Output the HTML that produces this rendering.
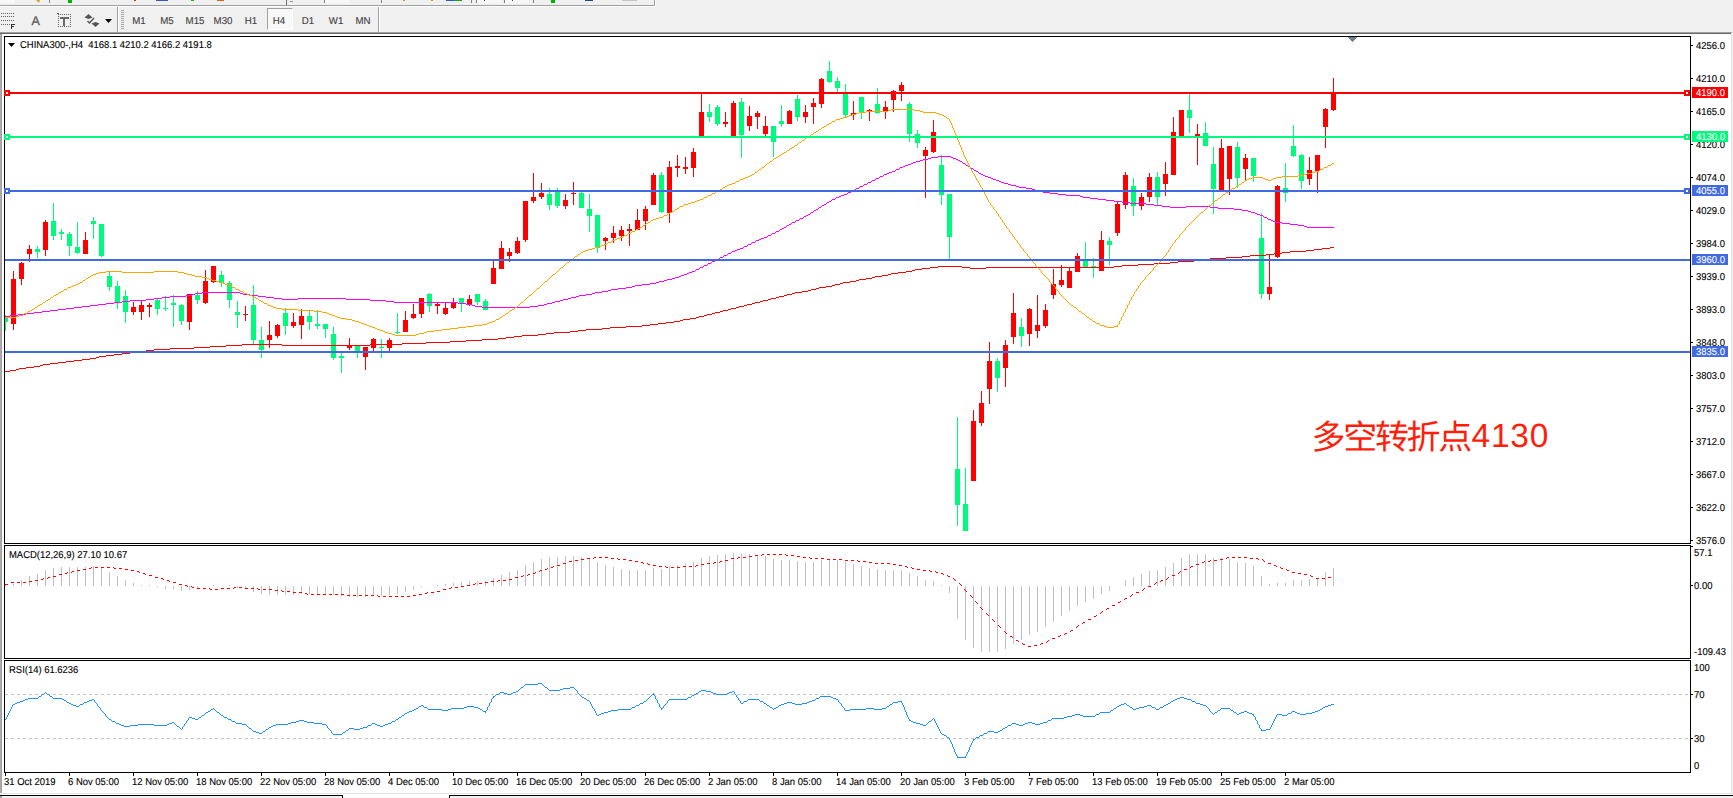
<!DOCTYPE html>
<html><head><meta charset="utf-8"><title>CHINA300 H4</title><style>
html,body{margin:0;padding:0}
body{text-rendering:geometricPrecision;width:1733px;height:798px;position:relative;overflow:hidden;background:#f0f0f0;font-family:"Liberation Sans",sans-serif}
.abs{position:absolute}
.t{position:absolute;font-size:10px;line-height:12px;color:#000;white-space:nowrap;transform:scaleX(0.945);transform-origin:0 0;-webkit-text-stroke:0.12px #000}
.tb{position:absolute;font-size:10px;line-height:12px;color:#404040;white-space:nowrap;transform:translateX(-50%) scaleX(0.97);transform-origin:50% 0;-webkit-text-stroke:0.12px #404040}
.pl{position:absolute;left:1692px;width:36px;height:11px;overflow:hidden;font-size:10px;line-height:13px;color:#fff;white-space:nowrap;-webkit-text-stroke:0.1px #fff}
.pl span{display:inline-block;margin-left:4px;transform:scaleX(0.945);transform-origin:0 0}
.cn{position:absolute;font-family:"Liberation Sans","Noto Sans CJK SC",sans-serif;font-size:34px;line-height:46px;letter-spacing:-2.3px;color:#ff1e0a;white-space:nowrap}
.cd{font-size:33.5px;letter-spacing:0.8px;position:relative;top:-2px;margin-left:1.5px}
</style></head><body>
<div class="abs" style="left:0;top:0;width:1733px;height:34px;background:#f0f0f0"></div>
<div class="abs" style="left:0;top:5px;width:655px;height:1px;background:#a0a0a0"></div>
<div class="abs" style="left:0;top:6px;width:656px;height:1px;background:#fff"></div>
<div class="abs" style="left:654px;top:0;width:1px;height:6px;background:#a0a0a0"></div>
<div class="abs" style="left:655px;top:0;width:1px;height:7px;background:#fff"></div>
<div class="abs" style="left:0;top:32px;width:1732px;height:1px;background:#a0a0a0"></div>
<div class="abs" style="left:0;top:33px;width:1731px;height:1px;background:#696969"></div>
<div class="abs" style="left:0;top:34px;width:1px;height:759px;background:#acacac"></div>
<div class="abs" style="left:1px;top:34px;width:1px;height:759px;background:#a0a0a0"></div>
<div class="abs" style="left:2px;top:34px;width:1729px;height:759px;background:#fff"></div>
<div class="abs" style="left:1731px;top:34px;width:1px;height:760px;background:#e3e3e3"></div>
<div class="abs" style="left:2px;top:793px;width:1730px;height:1px;background:#e3e3e3"></div>
<div class="abs" style="left:0;top:794px;width:1733px;height:4px;background:#f0f0f0"></div>
<div class="abs" style="left:2px;top:794px;width:1729px;height:1px;background:#fff"></div>
<div class="abs" style="left:0;top:795px;width:343px;height:1px;background:#000"></div>
<div class="abs" style="left:342px;top:795px;width:1px;height:3px;background:#000"></div>
<div class="abs" style="left:343px;top:794px;width:106px;height:4px;background:#fff"></div>
<div class="abs" style="left:449px;top:795px;width:1px;height:3px;background:#000"></div>
<div class="abs" style="left:449px;top:795px;width:1284px;height:1px;background:#000"></div>
<div class="abs" style="left:0;top:796px;width:2px;height:2px;background:#a8a8a8"></div>
<div class="abs" style="left:117px;top:7px;width:1px;height:25px;background:#a0a0a0"></div>
<div class="abs" style="left:118px;top:7px;width:1px;height:25px;background:#fff"></div>
<div class="abs" style="left:378px;top:7px;width:1px;height:25px;background:#a0a0a0"></div>
<div class="abs" style="left:379px;top:7px;width:1px;height:25px;background:#fff"></div>
<div class="abs" style="left:267px;top:8px;width:26px;height:22px;background:#f8f8f8;border:1px solid #a0a0a0;border-right-color:#fff;border-bottom-color:#fff;box-sizing:border-box"></div>
<svg width="1733" height="798" viewBox="0 0 1733 798" style="position:absolute;left:0;top:0" shape-rendering="crispEdges"><rect x="5" y="315" width="1" height="16" fill="#00fb7c"/>
<rect x="5" y="318" width="3" height="4" fill="#00fb7c"/>
<rect x="13" y="271" width="1" height="59" fill="#ff0000"/>
<rect x="11" y="279" width="5" height="45" fill="#ff0000"/>
<rect x="21" y="262" width="1" height="23" fill="#ff0000"/>
<rect x="19" y="263" width="5" height="16" fill="#ff0000"/>
<rect x="29" y="245" width="1" height="17" fill="#ff0000"/>
<rect x="27" y="249" width="5" height="5" fill="#ff0000"/>
<rect x="37" y="246" width="1" height="12" fill="#00fb7c"/>
<rect x="35" y="249" width="5" height="3" fill="#00fb7c"/>
<rect x="45" y="220" width="1" height="36" fill="#ff0000"/>
<rect x="43" y="222" width="5" height="28" fill="#ff0000"/>
<rect x="53" y="203" width="1" height="37" fill="#00fb7c"/>
<rect x="51" y="221" width="5" height="15" fill="#00fb7c"/>
<rect x="61" y="229" width="1" height="11" fill="#00fb7c"/>
<rect x="59" y="232" width="5" height="2" fill="#00fb7c"/>
<rect x="69" y="232" width="1" height="24" fill="#00fb7c"/>
<rect x="67" y="234" width="5" height="12" fill="#00fb7c"/>
<rect x="77" y="222" width="1" height="32" fill="#00fb7c"/>
<rect x="75" y="247" width="5" height="6" fill="#00fb7c"/>
<rect x="85" y="232" width="1" height="22" fill="#ff0000"/>
<rect x="83" y="240" width="5" height="14" fill="#ff0000"/>
<rect x="93" y="217" width="1" height="22" fill="#00fb7c"/>
<rect x="91" y="221" width="5" height="3" fill="#00fb7c"/>
<rect x="101" y="224" width="1" height="33" fill="#00fb7c"/>
<rect x="99" y="224" width="5" height="32" fill="#00fb7c"/>
<rect x="109" y="272" width="1" height="19" fill="#00fb7c"/>
<rect x="107" y="276" width="5" height="11" fill="#00fb7c"/>
<rect x="117" y="281" width="1" height="28" fill="#00fb7c"/>
<rect x="115" y="286" width="5" height="16" fill="#00fb7c"/>
<rect x="125" y="290" width="1" height="33" fill="#00fb7c"/>
<rect x="123" y="296" width="5" height="16" fill="#00fb7c"/>
<rect x="133" y="302" width="1" height="13" fill="#ff0000"/>
<rect x="131" y="307" width="5" height="5" fill="#ff0000"/>
<rect x="141" y="301" width="1" height="19" fill="#ff0000"/>
<rect x="139" y="305" width="5" height="7" fill="#ff0000"/>
<rect x="149" y="303" width="1" height="14" fill="#ff0000"/>
<rect x="147" y="305" width="5" height="2" fill="#ff0000"/>
<rect x="157" y="298" width="1" height="17" fill="#00fb7c"/>
<rect x="155" y="300" width="5" height="9" fill="#00fb7c"/>
<rect x="165" y="296" width="1" height="15" fill="#00fb7c"/>
<rect x="163" y="308" width="5" height="1" fill="#00fb7c"/>
<rect x="173" y="295" width="1" height="32" fill="#00fb7c"/>
<rect x="171" y="303" width="5" height="2" fill="#00fb7c"/>
<rect x="181" y="304" width="1" height="21" fill="#00fb7c"/>
<rect x="179" y="305" width="5" height="16" fill="#00fb7c"/>
<rect x="189" y="294" width="1" height="36" fill="#ff0000"/>
<rect x="187" y="294" width="5" height="28" fill="#ff0000"/>
<rect x="197" y="291" width="1" height="13" fill="#00fb7c"/>
<rect x="195" y="295" width="5" height="5" fill="#00fb7c"/>
<rect x="205" y="270" width="1" height="34" fill="#ff0000"/>
<rect x="203" y="281" width="5" height="22" fill="#ff0000"/>
<rect x="213" y="266" width="1" height="17" fill="#ff0000"/>
<rect x="211" y="266" width="5" height="16" fill="#ff0000"/>
<rect x="221" y="271" width="1" height="16" fill="#00fb7c"/>
<rect x="219" y="275" width="5" height="8" fill="#00fb7c"/>
<rect x="229" y="281" width="1" height="27" fill="#00fb7c"/>
<rect x="227" y="283" width="5" height="17" fill="#00fb7c"/>
<rect x="237" y="301" width="1" height="27" fill="#00fb7c"/>
<rect x="235" y="312" width="5" height="3" fill="#00fb7c"/>
<rect x="245" y="306" width="1" height="15" fill="#ff0000"/>
<rect x="243" y="314" width="5" height="1" fill="#ff0000"/>
<rect x="253" y="285" width="1" height="60" fill="#00fb7c"/>
<rect x="251" y="305" width="5" height="35" fill="#00fb7c"/>
<rect x="261" y="327" width="1" height="31" fill="#00fb7c"/>
<rect x="259" y="340" width="5" height="10" fill="#00fb7c"/>
<rect x="269" y="321" width="1" height="27" fill="#ff0000"/>
<rect x="267" y="335" width="5" height="5" fill="#ff0000"/>
<rect x="277" y="324" width="1" height="14" fill="#ff0000"/>
<rect x="275" y="325" width="5" height="11" fill="#ff0000"/>
<rect x="285" y="308" width="1" height="27" fill="#00fb7c"/>
<rect x="283" y="313" width="5" height="13" fill="#00fb7c"/>
<rect x="293" y="313" width="1" height="15" fill="#ff0000"/>
<rect x="291" y="322" width="5" height="4" fill="#ff0000"/>
<rect x="301" y="309" width="1" height="30" fill="#ff0000"/>
<rect x="299" y="316" width="5" height="9" fill="#ff0000"/>
<rect x="309" y="311" width="1" height="19" fill="#00fb7c"/>
<rect x="307" y="316" width="5" height="6" fill="#00fb7c"/>
<rect x="317" y="310" width="1" height="19" fill="#00fb7c"/>
<rect x="315" y="324" width="5" height="2" fill="#00fb7c"/>
<rect x="325" y="324" width="1" height="14" fill="#00fb7c"/>
<rect x="323" y="324" width="5" height="5" fill="#00fb7c"/>
<rect x="333" y="327" width="1" height="33" fill="#00fb7c"/>
<rect x="331" y="334" width="5" height="24" fill="#00fb7c"/>
<rect x="341" y="353" width="1" height="20" fill="#00fb7c"/>
<rect x="339" y="356" width="5" height="2" fill="#00fb7c"/>
<rect x="349" y="338" width="1" height="12" fill="#ff0000"/>
<rect x="347" y="345" width="5" height="3" fill="#ff0000"/>
<rect x="357" y="346" width="1" height="12" fill="#00fb7c"/>
<rect x="355" y="346" width="5" height="5" fill="#00fb7c"/>
<rect x="365" y="347" width="1" height="23" fill="#ff0000"/>
<rect x="363" y="347" width="5" height="10" fill="#ff0000"/>
<rect x="373" y="338" width="1" height="13" fill="#ff0000"/>
<rect x="371" y="339" width="5" height="9" fill="#ff0000"/>
<rect x="381" y="339" width="1" height="19" fill="#00fb7c"/>
<rect x="379" y="347" width="5" height="1" fill="#00fb7c"/>
<rect x="389" y="338" width="1" height="13" fill="#ff0000"/>
<rect x="387" y="340" width="5" height="8" fill="#ff0000"/>
<rect x="397" y="313" width="1" height="21" fill="#00fb7c"/>
<rect x="395" y="332" width="5" height="1" fill="#00fb7c"/>
<rect x="405" y="311" width="1" height="21" fill="#ff0000"/>
<rect x="403" y="320" width="5" height="12" fill="#ff0000"/>
<rect x="413" y="304" width="1" height="15" fill="#ff0000"/>
<rect x="411" y="314" width="5" height="4" fill="#ff0000"/>
<rect x="421" y="298" width="1" height="20" fill="#ff0000"/>
<rect x="419" y="298" width="5" height="16" fill="#ff0000"/>
<rect x="429" y="293" width="1" height="19" fill="#00fb7c"/>
<rect x="427" y="294" width="5" height="12" fill="#00fb7c"/>
<rect x="437" y="302" width="1" height="12" fill="#ff0000"/>
<rect x="435" y="304" width="5" height="2" fill="#ff0000"/>
<rect x="445" y="303" width="1" height="12" fill="#ff0000"/>
<rect x="443" y="308" width="5" height="6" fill="#ff0000"/>
<rect x="453" y="298" width="1" height="11" fill="#ff0000"/>
<rect x="451" y="302" width="5" height="6" fill="#ff0000"/>
<rect x="461" y="298" width="1" height="14" fill="#00fb7c"/>
<rect x="459" y="298" width="5" height="5" fill="#00fb7c"/>
<rect x="469" y="295" width="1" height="11" fill="#ff0000"/>
<rect x="467" y="299" width="5" height="5" fill="#ff0000"/>
<rect x="477" y="294" width="1" height="11" fill="#00fb7c"/>
<rect x="475" y="294" width="5" height="8" fill="#00fb7c"/>
<rect x="485" y="299" width="1" height="11" fill="#00fb7c"/>
<rect x="483" y="301" width="5" height="9" fill="#00fb7c"/>
<rect x="493" y="261" width="1" height="23" fill="#ff0000"/>
<rect x="491" y="268" width="5" height="16" fill="#ff0000"/>
<rect x="501" y="241" width="1" height="28" fill="#ff0000"/>
<rect x="499" y="248" width="5" height="21" fill="#ff0000"/>
<rect x="509" y="248" width="1" height="14" fill="#ff0000"/>
<rect x="507" y="252" width="5" height="4" fill="#ff0000"/>
<rect x="517" y="237" width="1" height="17" fill="#ff0000"/>
<rect x="515" y="241" width="5" height="12" fill="#ff0000"/>
<rect x="525" y="201" width="1" height="41" fill="#ff0000"/>
<rect x="523" y="201" width="5" height="39" fill="#ff0000"/>
<rect x="533" y="173" width="1" height="30" fill="#ff0000"/>
<rect x="531" y="197" width="5" height="4" fill="#ff0000"/>
<rect x="541" y="183" width="1" height="16" fill="#ff0000"/>
<rect x="539" y="193" width="5" height="4" fill="#ff0000"/>
<rect x="549" y="188" width="1" height="22" fill="#00fb7c"/>
<rect x="547" y="194" width="5" height="11" fill="#00fb7c"/>
<rect x="557" y="188" width="1" height="20" fill="#00fb7c"/>
<rect x="555" y="192" width="5" height="14" fill="#00fb7c"/>
<rect x="565" y="194" width="1" height="15" fill="#ff0000"/>
<rect x="563" y="200" width="5" height="6" fill="#ff0000"/>
<rect x="573" y="182" width="1" height="23" fill="#ff0000"/>
<rect x="571" y="193" width="5" height="1" fill="#ff0000"/>
<rect x="581" y="191" width="1" height="17" fill="#00fb7c"/>
<rect x="579" y="193" width="5" height="15" fill="#00fb7c"/>
<rect x="589" y="194" width="1" height="38" fill="#00fb7c"/>
<rect x="587" y="209" width="5" height="7" fill="#00fb7c"/>
<rect x="597" y="215" width="1" height="38" fill="#00fb7c"/>
<rect x="595" y="215" width="5" height="33" fill="#00fb7c"/>
<rect x="605" y="237" width="1" height="13" fill="#ff0000"/>
<rect x="603" y="238" width="5" height="3" fill="#ff0000"/>
<rect x="613" y="226" width="1" height="17" fill="#ff0000"/>
<rect x="611" y="233" width="5" height="5" fill="#ff0000"/>
<rect x="621" y="226" width="1" height="15" fill="#ff0000"/>
<rect x="619" y="230" width="5" height="6" fill="#ff0000"/>
<rect x="629" y="224" width="1" height="22" fill="#ff0000"/>
<rect x="627" y="229" width="5" height="2" fill="#ff0000"/>
<rect x="637" y="209" width="1" height="21" fill="#ff0000"/>
<rect x="635" y="220" width="5" height="10" fill="#ff0000"/>
<rect x="645" y="206" width="1" height="24" fill="#ff0000"/>
<rect x="643" y="209" width="5" height="12" fill="#ff0000"/>
<rect x="653" y="173" width="1" height="32" fill="#ff0000"/>
<rect x="651" y="175" width="5" height="30" fill="#ff0000"/>
<rect x="661" y="172" width="1" height="41" fill="#00fb7c"/>
<rect x="659" y="175" width="5" height="37" fill="#00fb7c"/>
<rect x="669" y="161" width="1" height="62" fill="#ff0000"/>
<rect x="667" y="167" width="5" height="46" fill="#ff0000"/>
<rect x="677" y="155" width="1" height="22" fill="#ff0000"/>
<rect x="675" y="166" width="5" height="2" fill="#ff0000"/>
<rect x="685" y="157" width="1" height="17" fill="#ff0000"/>
<rect x="683" y="167" width="5" height="2" fill="#ff0000"/>
<rect x="693" y="148" width="1" height="29" fill="#ff0000"/>
<rect x="691" y="152" width="5" height="16" fill="#ff0000"/>
<rect x="701" y="93" width="1" height="43" fill="#ff0000"/>
<rect x="699" y="112" width="5" height="24" fill="#ff0000"/>
<rect x="709" y="104" width="1" height="18" fill="#00fb7c"/>
<rect x="707" y="112" width="5" height="5" fill="#00fb7c"/>
<rect x="717" y="105" width="1" height="21" fill="#00fb7c"/>
<rect x="715" y="107" width="5" height="17" fill="#00fb7c"/>
<rect x="725" y="112" width="1" height="15" fill="#ff0000"/>
<rect x="723" y="122" width="5" height="2" fill="#ff0000"/>
<rect x="733" y="101" width="1" height="35" fill="#ff0000"/>
<rect x="731" y="103" width="5" height="33" fill="#ff0000"/>
<rect x="741" y="98" width="1" height="60" fill="#00fb7c"/>
<rect x="739" y="102" width="5" height="33" fill="#00fb7c"/>
<rect x="749" y="106" width="1" height="25" fill="#ff0000"/>
<rect x="747" y="116" width="5" height="10" fill="#ff0000"/>
<rect x="757" y="111" width="1" height="18" fill="#ff0000"/>
<rect x="755" y="113" width="5" height="4" fill="#ff0000"/>
<rect x="765" y="116" width="1" height="20" fill="#ff0000"/>
<rect x="763" y="126" width="5" height="8" fill="#ff0000"/>
<rect x="773" y="126" width="1" height="31" fill="#00fb7c"/>
<rect x="771" y="126" width="5" height="16" fill="#00fb7c"/>
<rect x="781" y="105" width="1" height="22" fill="#00fb7c"/>
<rect x="779" y="121" width="5" height="3" fill="#00fb7c"/>
<rect x="789" y="110" width="1" height="14" fill="#ff0000"/>
<rect x="787" y="111" width="5" height="13" fill="#ff0000"/>
<rect x="797" y="95" width="1" height="26" fill="#00fb7c"/>
<rect x="795" y="99" width="5" height="18" fill="#00fb7c"/>
<rect x="805" y="105" width="1" height="18" fill="#ff0000"/>
<rect x="803" y="112" width="5" height="5" fill="#ff0000"/>
<rect x="813" y="98" width="1" height="26" fill="#ff0000"/>
<rect x="811" y="103" width="5" height="4" fill="#ff0000"/>
<rect x="821" y="78" width="1" height="30" fill="#ff0000"/>
<rect x="819" y="79" width="5" height="25" fill="#ff0000"/>
<rect x="829" y="61" width="1" height="22" fill="#00fb7c"/>
<rect x="827" y="71" width="5" height="11" fill="#00fb7c"/>
<rect x="837" y="77" width="1" height="15" fill="#00fb7c"/>
<rect x="835" y="81" width="5" height="7" fill="#00fb7c"/>
<rect x="845" y="84" width="1" height="33" fill="#00fb7c"/>
<rect x="843" y="94" width="5" height="21" fill="#00fb7c"/>
<rect x="853" y="101" width="1" height="19" fill="#ff0000"/>
<rect x="851" y="113" width="5" height="2" fill="#ff0000"/>
<rect x="861" y="97" width="1" height="22" fill="#00fb7c"/>
<rect x="859" y="97" width="5" height="16" fill="#00fb7c"/>
<rect x="869" y="109" width="1" height="12" fill="#ff0000"/>
<rect x="867" y="110" width="5" height="2" fill="#ff0000"/>
<rect x="877" y="88" width="1" height="26" fill="#00fb7c"/>
<rect x="875" y="104" width="5" height="9" fill="#00fb7c"/>
<rect x="885" y="101" width="1" height="18" fill="#ff0000"/>
<rect x="883" y="107" width="5" height="5" fill="#ff0000"/>
<rect x="893" y="90" width="1" height="22" fill="#ff0000"/>
<rect x="891" y="91" width="5" height="9" fill="#ff0000"/>
<rect x="901" y="82" width="1" height="19" fill="#ff0000"/>
<rect x="899" y="85" width="5" height="6" fill="#ff0000"/>
<rect x="909" y="102" width="1" height="40" fill="#00fb7c"/>
<rect x="907" y="104" width="5" height="30" fill="#00fb7c"/>
<rect x="917" y="130" width="1" height="18" fill="#00fb7c"/>
<rect x="915" y="134" width="5" height="9" fill="#00fb7c"/>
<rect x="925" y="147" width="1" height="51" fill="#ff0000"/>
<rect x="923" y="150" width="5" height="6" fill="#ff0000"/>
<rect x="933" y="120" width="1" height="33" fill="#ff0000"/>
<rect x="931" y="132" width="5" height="20" fill="#ff0000"/>
<rect x="941" y="155" width="1" height="50" fill="#00fb7c"/>
<rect x="939" y="165" width="5" height="30" fill="#00fb7c"/>
<rect x="949" y="194" width="1" height="65" fill="#00fb7c"/>
<rect x="947" y="194" width="5" height="43" fill="#00fb7c"/>
<rect x="957" y="417" width="1" height="109" fill="#00fb7c"/>
<rect x="955" y="469" width="5" height="36" fill="#00fb7c"/>
<rect x="965" y="468" width="1" height="63" fill="#00fb7c"/>
<rect x="963" y="504" width="5" height="27" fill="#00fb7c"/>
<rect x="973" y="410" width="1" height="71" fill="#ff0000"/>
<rect x="971" y="421" width="5" height="60" fill="#ff0000"/>
<rect x="981" y="391" width="1" height="35" fill="#ff0000"/>
<rect x="979" y="403" width="5" height="20" fill="#ff0000"/>
<rect x="989" y="342" width="1" height="62" fill="#ff0000"/>
<rect x="987" y="361" width="5" height="28" fill="#ff0000"/>
<rect x="997" y="358" width="1" height="34" fill="#00fb7c"/>
<rect x="995" y="361" width="5" height="17" fill="#00fb7c"/>
<rect x="1005" y="340" width="1" height="47" fill="#ff0000"/>
<rect x="1003" y="345" width="5" height="23" fill="#ff0000"/>
<rect x="1013" y="293" width="1" height="51" fill="#ff0000"/>
<rect x="1011" y="313" width="5" height="24" fill="#ff0000"/>
<rect x="1021" y="318" width="1" height="29" fill="#00fb7c"/>
<rect x="1019" y="327" width="5" height="9" fill="#00fb7c"/>
<rect x="1029" y="308" width="1" height="38" fill="#ff0000"/>
<rect x="1027" y="309" width="5" height="25" fill="#ff0000"/>
<rect x="1037" y="295" width="1" height="43" fill="#ff0000"/>
<rect x="1035" y="325" width="5" height="6" fill="#ff0000"/>
<rect x="1045" y="304" width="1" height="24" fill="#ff0000"/>
<rect x="1043" y="310" width="5" height="16" fill="#ff0000"/>
<rect x="1053" y="269" width="1" height="30" fill="#ff0000"/>
<rect x="1051" y="284" width="5" height="11" fill="#ff0000"/>
<rect x="1061" y="265" width="1" height="22" fill="#ff0000"/>
<rect x="1059" y="280" width="5" height="5" fill="#ff0000"/>
<rect x="1069" y="268" width="1" height="20" fill="#ff0000"/>
<rect x="1067" y="271" width="5" height="17" fill="#ff0000"/>
<rect x="1077" y="253" width="1" height="19" fill="#ff0000"/>
<rect x="1075" y="256" width="5" height="16" fill="#ff0000"/>
<rect x="1085" y="242" width="1" height="25" fill="#00fb7c"/>
<rect x="1083" y="260" width="5" height="7" fill="#00fb7c"/>
<rect x="1093" y="258" width="1" height="20" fill="#00fb7c"/>
<rect x="1091" y="266" width="5" height="1" fill="#00fb7c"/>
<rect x="1101" y="231" width="1" height="40" fill="#ff0000"/>
<rect x="1099" y="240" width="5" height="31" fill="#ff0000"/>
<rect x="1109" y="237" width="1" height="28" fill="#00fb7c"/>
<rect x="1107" y="241" width="5" height="4" fill="#00fb7c"/>
<rect x="1117" y="202" width="1" height="34" fill="#ff0000"/>
<rect x="1115" y="204" width="5" height="29" fill="#ff0000"/>
<rect x="1125" y="172" width="1" height="37" fill="#ff0000"/>
<rect x="1123" y="175" width="5" height="30" fill="#ff0000"/>
<rect x="1133" y="178" width="1" height="38" fill="#00fb7c"/>
<rect x="1131" y="186" width="5" height="20" fill="#00fb7c"/>
<rect x="1141" y="193" width="1" height="17" fill="#ff0000"/>
<rect x="1139" y="197" width="5" height="9" fill="#ff0000"/>
<rect x="1149" y="173" width="1" height="29" fill="#ff0000"/>
<rect x="1147" y="177" width="5" height="20" fill="#ff0000"/>
<rect x="1157" y="172" width="1" height="33" fill="#00fb7c"/>
<rect x="1155" y="177" width="5" height="20" fill="#00fb7c"/>
<rect x="1165" y="162" width="1" height="34" fill="#ff0000"/>
<rect x="1163" y="174" width="5" height="10" fill="#ff0000"/>
<rect x="1173" y="117" width="1" height="58" fill="#ff0000"/>
<rect x="1171" y="132" width="5" height="43" fill="#ff0000"/>
<rect x="1181" y="110" width="1" height="26" fill="#ff0000"/>
<rect x="1179" y="110" width="5" height="26" fill="#ff0000"/>
<rect x="1189" y="94" width="1" height="39" fill="#00fb7c"/>
<rect x="1187" y="110" width="5" height="8" fill="#00fb7c"/>
<rect x="1197" y="124" width="1" height="41" fill="#ff0000"/>
<rect x="1195" y="134" width="5" height="2" fill="#ff0000"/>
<rect x="1205" y="122" width="1" height="24" fill="#00fb7c"/>
<rect x="1203" y="133" width="5" height="13" fill="#00fb7c"/>
<rect x="1213" y="147" width="1" height="67" fill="#00fb7c"/>
<rect x="1211" y="164" width="5" height="25" fill="#00fb7c"/>
<rect x="1221" y="139" width="1" height="52" fill="#ff0000"/>
<rect x="1219" y="148" width="5" height="43" fill="#ff0000"/>
<rect x="1229" y="146" width="1" height="49" fill="#ff0000"/>
<rect x="1227" y="146" width="5" height="33" fill="#ff0000"/>
<rect x="1237" y="142" width="1" height="46" fill="#00fb7c"/>
<rect x="1235" y="147" width="5" height="31" fill="#00fb7c"/>
<rect x="1245" y="154" width="1" height="26" fill="#ff0000"/>
<rect x="1243" y="158" width="5" height="11" fill="#ff0000"/>
<rect x="1253" y="158" width="1" height="24" fill="#00fb7c"/>
<rect x="1251" y="158" width="5" height="18" fill="#00fb7c"/>
<rect x="1261" y="213" width="1" height="86" fill="#00fb7c"/>
<rect x="1259" y="238" width="5" height="56" fill="#00fb7c"/>
<rect x="1269" y="254" width="1" height="46" fill="#ff0000"/>
<rect x="1267" y="287" width="5" height="7" fill="#ff0000"/>
<rect x="1277" y="185" width="1" height="73" fill="#ff0000"/>
<rect x="1275" y="186" width="5" height="71" fill="#ff0000"/>
<rect x="1285" y="163" width="1" height="39" fill="#00fb7c"/>
<rect x="1283" y="188" width="5" height="5" fill="#00fb7c"/>
<rect x="1293" y="125" width="1" height="32" fill="#00fb7c"/>
<rect x="1291" y="146" width="5" height="10" fill="#00fb7c"/>
<rect x="1301" y="154" width="1" height="35" fill="#00fb7c"/>
<rect x="1299" y="155" width="5" height="26" fill="#00fb7c"/>
<rect x="1309" y="157" width="1" height="28" fill="#ff0000"/>
<rect x="1307" y="170" width="5" height="9" fill="#ff0000"/>
<rect x="1317" y="155" width="1" height="38" fill="#ff0000"/>
<rect x="1315" y="155" width="5" height="16" fill="#ff0000"/>
<rect x="1325" y="108" width="1" height="40" fill="#ff0000"/>
<rect x="1323" y="109" width="5" height="18" fill="#ff0000"/>
<rect x="1333" y="78" width="1" height="33" fill="#ff0000"/>
<rect x="1331" y="93" width="5" height="17" fill="#ff0000"/>
<path d="M5 316.5h5M10 315.5h8M18 314.5h8M26 313.5h8M34 312.5h8M42 311.5h8M50 310.5h8M58 309.5h8M66 308.5h8M74 307.5h8M82 306.5h8M90 305.5h8M98 304.5h8M106 303.5h8M114 302.5h8M122 301.5h8M130 300.5h16M146 299.5h8M154 298.5h8M162 297.5h8M170 296.5h16M186 295.5h6M192 294.5h3M195 293.5h7M202 292.5h38M240 293.5h3M243 294.5h7M250 295.5h8M258 296.5h8M266 297.5h8M274 298.5h8M282 299.5h16M298 298.5h48M346 299.5h24M370 300.5h16M386 301.5h8M394 302.5h64M458 303.5h8M466 304.5h6M472 305.5h3M475 306.5h7M482 307.5h48M530 306.5h8M538 305.5h6M544 304.5h3M547 303.5h5M552 302.5h3M555 301.5h5M560 300.5h3M563 299.5h5M568 298.5h3M571 297.5h5M576 296.5h3M579 295.5h7M586 294.5h6M592 293.5h3M595 292.5h7M602 291.5h6M608 290.5h3M611 289.5h7M618 288.5h8M626 287.5h6M632 286.5h3M635 285.5h7M642 284.5h8M650 283.5h6M656 282.5h3M659 281.5h5M664 280.5h3M667 279.5h5M672 278.5h3M675 277.5h4M679 276.5h2M681 275.5h3M684 274.5h3M687 273.5h2M689 272.5h3M692 271.5h3M696 269.5h3M700 267.5h3M704 265.5h3M708 263.5h3M712 261.5h3M716 259.5h3M720 257.5h3M724 255.5h3M728 253.5h3M732 251.5h3M735 250.5h2M737 249.5h3M740 248.5h3M744 246.5h3M748 244.5h3M752 242.5h3M756 240.5h3M759 239.5h2M761 238.5h3M764 237.5h3M768 235.5h3M772 233.5h3M776 231.5h3M780 229.5h2M782 228.5h2M784 227.5h2M787 225.5h2M789 224.5h2M792 222.5h3M796 220.5h3M800 218.5h3M804 216.5h2M806 215.5h2M808 214.5h2M811 212.5h2M814 210.5h2M816 209.5h2M819 207.5h2M822 205.5h2M824 204.5h2M827 202.5h2M829 201.5h2M832 199.5h3M836 197.5h3M839 196.5h2M841 195.5h3M844 194.5h3M848 192.5h3M852 190.5h3M856 188.5h3M860 186.5h3M864 184.5h3M868 182.5h3M872 180.5h3M876 178.5h3M880 176.5h3M884 174.5h3M887 173.5h2M889 172.5h3M892 171.5h3M896 169.5h3M900 167.5h3M903 166.5h2M905 165.5h3M908 164.5h3M911 163.5h2M913 162.5h3M916 161.5h4M920 160.5h3M923 159.5h5M928 158.5h3M931 157.5h7M938 156.5h13M951 157.5h2M953 158.5h3M956 159.5h2M958 160.5h2M960 161.5h2M963 163.5h2M966 165.5h2M968 166.5h2M971 168.5h2M974 170.5h2M976 171.5h2M979 173.5h2M981 174.5h2M983 175.5h2M985 176.5h3M988 177.5h3M991 178.5h2M993 179.5h3M996 180.5h3M999 181.5h2M1001 182.5h3M1004 183.5h4M1008 184.5h3M1011 185.5h5M1016 186.5h3M1019 187.5h7M1026 188.5h6M1032 189.5h3M1035 190.5h5M1040 191.5h3M1043 192.5h7M1050 193.5h8M1058 194.5h8M1066 195.5h14M1080 196.5h3M1083 197.5h7M1090 198.5h8M1098 199.5h8M1106 200.5h8M1114 201.5h8M1122 202.5h8M1130 203.5h16M1146 204.5h8M1154 205.5h8M1162 206.5h8M1170 207.5h16M1186 206.5h24M1210 207.5h8M1218 208.5h16M1234 209.5h8M1242 210.5h6M1248 211.5h3M1251 212.5h4M1255 213.5h2M1257 214.5h3M1260 215.5h3M1264 217.5h3M1268 219.5h3M1271 220.5h2M1273 221.5h3M1276 222.5h6M1282 223.5h8M1290 224.5h8M1298 225.5h6M1304 226.5h3M1307 227.5h27M695.5 270v1M699.5 268v1M703.5 266v1M707.5 264v1M711.5 262v1M715.5 260v1M719.5 258v1M723.5 256v1M727.5 254v1M731.5 252v1M743.5 247v1M747.5 245v1M751.5 243v1M755.5 241v1M767.5 236v1M771.5 234v1M775.5 232v1M779.5 230v1M786.5 226v1M791.5 223v1M795.5 221v1M799.5 219v1M803.5 217v1M810.5 213v1M813.5 211v1M818.5 208v1M821.5 206v1M826.5 203v1M831.5 200v1M835.5 198v1M847.5 193v1M851.5 191v1M855.5 189v1M859.5 187v1M863.5 185v1M867.5 183v1M871.5 181v1M875.5 179v1M879.5 177v1M883.5 175v1M895.5 170v1M899.5 168v1M962.5 162v1M965.5 164v1M970.5 167v1M973.5 169v1M978.5 172v1M1263.5 216v1M1267.5 218v1" fill="none" stroke="#ff00ff" stroke-width="1"/>
<path d="M5 371.5h5M10 370.5h6M16 369.5h3M19 368.5h7M26 367.5h8M34 366.5h6M40 365.5h3M43 364.5h7M50 363.5h8M58 362.5h8M66 361.5h8M74 360.5h8M82 359.5h8M90 358.5h6M96 357.5h3M99 356.5h7M106 355.5h8M114 354.5h8M122 353.5h8M130 352.5h8M138 351.5h8M146 350.5h8M154 349.5h16M170 348.5h24M194 347.5h16M210 346.5h16M226 345.5h16M242 344.5h40M282 345.5h88M370 344.5h32M402 343.5h24M426 342.5h24M450 341.5h16M466 340.5h16M482 339.5h16M498 338.5h8M506 337.5h8M514 336.5h8M522 335.5h16M538 334.5h8M546 333.5h8M554 332.5h16M570 331.5h8M578 330.5h8M586 329.5h16M602 328.5h8M610 327.5h16M626 326.5h16M642 325.5h8M650 324.5h8M658 323.5h8M666 322.5h8M674 321.5h6M680 320.5h3M683 319.5h7M690 318.5h6M696 317.5h3M699 316.5h5M704 315.5h3M707 314.5h5M712 313.5h3M715 312.5h5M720 311.5h3M723 310.5h5M728 309.5h3M731 308.5h5M736 307.5h3M739 306.5h5M744 305.5h3M747 304.5h5M752 303.5h3M755 302.5h5M760 301.5h3M763 300.5h5M768 299.5h3M771 298.5h5M776 297.5h3M779 296.5h5M784 295.5h3M787 294.5h5M792 293.5h3M795 292.5h7M802 291.5h6M808 290.5h3M811 289.5h5M816 288.5h3M819 287.5h7M826 286.5h6M832 285.5h3M835 284.5h5M840 283.5h3M843 282.5h7M850 281.5h6M856 280.5h3M859 279.5h7M866 278.5h6M872 277.5h3M875 276.5h7M882 275.5h6M888 274.5h3M891 273.5h7M898 272.5h8M906 271.5h6M912 270.5h3M915 269.5h7M922 268.5h8M930 267.5h8M938 266.5h24M962 267.5h8M970 268.5h16M986 267.5h128M1114 266.5h8M1122 265.5h16M1138 264.5h16M1154 263.5h16M1170 262.5h8M1178 261.5h16M1194 260.5h8M1202 259.5h8M1210 258.5h16M1226 257.5h16M1242 256.5h8M1250 255.5h16M1266 254.5h8M1274 253.5h8M1282 252.5h8M1290 251.5h16M1306 250.5h8M1314 249.5h8M1322 248.5h8M1330 247.5h4" fill="none" stroke="#ff0000" stroke-width="1"/>
<path d="M5 317.5h11M16 316.5h3M19 315.5h4M24 313.5h3M28 311.5h2M30 310.5h2M32 309.5h2M35 307.5h2M38 305.5h2M40 304.5h2M43 302.5h2M46 300.5h2M48 299.5h2M51 297.5h2M54 295.5h2M56 294.5h2M59 292.5h2M61 291.5h2M64 289.5h3M68 287.5h3M71 286.5h2M73 285.5h3M76 284.5h2M78 283.5h2M80 282.5h2M83 280.5h2M86 278.5h2M88 277.5h2M91 275.5h2M93 274.5h3M96 273.5h3M99 272.5h7M106 271.5h16M122 272.5h32M154 271.5h24M178 272.5h6M184 273.5h3M187 274.5h5M192 275.5h3M195 276.5h7M202 277.5h5M207 278.5h2M209 279.5h3M212 280.5h4M216 281.5h3M219 282.5h4M223 283.5h2M225 284.5h3M228 285.5h3M232 287.5h3M236 289.5h3M240 291.5h3M244 293.5h3M247 294.5h2M249 295.5h3M252 296.5h2M254 297.5h2M256 298.5h2M259 300.5h2M261 301.5h2M264 303.5h3M268 305.5h3M271 306.5h2M273 307.5h3M276 308.5h6M282 309.5h16M298 310.5h16M314 311.5h8M322 312.5h5M327 313.5h2M329 314.5h3M332 315.5h3M335 316.5h2M337 317.5h3M340 318.5h6M346 319.5h6M352 320.5h3M355 321.5h4M359 322.5h2M361 323.5h3M364 324.5h3M367 325.5h2M369 326.5h3M372 327.5h3M375 328.5h2M377 329.5h3M380 330.5h3M383 331.5h2M385 332.5h3M388 333.5h4M392 334.5h3M395 335.5h21M416 334.5h3M419 333.5h5M424 332.5h3M427 331.5h7M434 330.5h8M442 329.5h8M450 328.5h8M458 327.5h8M466 326.5h8M474 325.5h8M482 324.5h5M487 323.5h2M489 322.5h3M492 321.5h3M496 319.5h3M500 317.5h2M503 315.5h2M506 313.5h2M510 310.5h2M512 309.5h2M515 307.5h2M521 302.5h2M529 295.5h2M537 288.5h2M545 281.5h2M553 274.5h2M561 267.5h2M567 262.5h2M570 260.5h2M575 256.5h2M578 254.5h2M581 252.5h2M583 251.5h2M585 250.5h3M588 249.5h4M592 248.5h3M595 247.5h4M599 246.5h2M601 245.5h3M604 244.5h3M608 242.5h3M612 240.5h3M615 239.5h2M617 238.5h3M620 237.5h3M624 235.5h3M628 233.5h3M632 231.5h3M636 229.5h2M638 228.5h2M640 227.5h2M643 225.5h2M646 223.5h2M648 222.5h2M651 220.5h2M653 219.5h3M656 218.5h3M659 217.5h4M664 215.5h3M668 213.5h2M670 212.5h2M672 211.5h2M675 209.5h2M677 208.5h2M680 206.5h3M684 204.5h4M688 203.5h3M691 202.5h4M695 201.5h2M697 200.5h3M700 199.5h3M704 197.5h3M708 195.5h3M712 193.5h3M716 191.5h2M718 190.5h2M720 189.5h2M723 187.5h2M725 186.5h2M727 185.5h2M729 184.5h3M732 183.5h3M736 181.5h3M740 179.5h3M743 178.5h2M745 177.5h3M748 176.5h2M750 175.5h2M752 174.5h2M755 172.5h2M759 169.5h2M762 167.5h2M767 163.5h2M770 161.5h2M774 158.5h2M776 157.5h2M779 155.5h2M782 153.5h2M784 152.5h2M787 150.5h2M790 148.5h2M792 147.5h2M795 145.5h2M799 142.5h2M802 140.5h2M806 137.5h2M808 136.5h2M811 134.5h2M814 132.5h2M816 131.5h2M819 129.5h2M822 127.5h2M824 126.5h2M827 124.5h2M829 123.5h2M832 121.5h3M836 119.5h4M840 118.5h3M843 117.5h4M847 116.5h2M849 115.5h3M852 114.5h4M856 113.5h3M859 112.5h7M866 111.5h22M888 110.5h3M891 109.5h23M914 110.5h6M920 111.5h3M923 112.5h13M936 113.5h3M939 114.5h3M942 115.5h2M944 116.5h2M947 118.5h2M1071 305.5h2M1074 307.5h2M1079 311.5h2M1082 313.5h2M1087 317.5h2M1090 319.5h2M1093 321.5h2M1096 323.5h3M1100 325.5h4M1104 326.5h3M1107 327.5h7M1114 326.5h4M1201 212.5h2M1209 205.5h2M1215 200.5h2M1218 198.5h2M1223 194.5h2M1226 192.5h2M1229 190.5h2M1232 188.5h3M1236 186.5h2M1239 184.5h2M1242 182.5h2M1245 180.5h2M1247 179.5h2M1249 178.5h3M1252 177.5h11M1263 178.5h2M1265 179.5h3M1268 180.5h3M1271 179.5h2M1273 178.5h3M1276 177.5h6M1282 176.5h16M1298 175.5h6M1304 174.5h3M1307 173.5h5M1312 172.5h3M1315 171.5h4M1320 169.5h3M1324 167.5h3M1328 165.5h3M1332 163.5h2M23.5 314v1M27.5 312v1M34.5 308v1M37.5 306v1M42.5 303v1M45.5 301v1M50.5 298v1M53.5 296v1M58.5 293v1M63.5 290v1M67.5 288v1M82.5 281v1M85.5 279v1M90.5 276v1M231.5 286v1M235.5 288v1M239.5 290v1M243.5 292v1M258.5 299v1M263.5 302v1M267.5 304v1M495.5 320v1M499.5 318v1M502.5 316v1M505.5 314v1M508.5 312v1M509.5 311v1M514.5 308v1M517.5 306v1M518.5 305v1M519.5 304v1M520.5 303v1M523.5 301v1M524.5 300v1M525.5 299v1M526.5 298v1M527.5 297v1M528.5 296v1M531.5 294v1M532.5 293v1M533.5 292v1M534.5 291v1M535.5 290v1M536.5 289v1M539.5 287v1M540.5 286v1M541.5 285v1M542.5 284v1M543.5 283v1M544.5 282v1M547.5 280v1M548.5 279v1M549.5 278v1M550.5 277v1M551.5 276v1M552.5 275v1M555.5 273v1M556.5 272v1M557.5 271v1M558.5 270v1M559.5 269v1M560.5 268v1M563.5 266v1M564.5 265v1M565.5 264v1M566.5 263v1M569.5 261v1M572.5 259v1M573.5 258v1M574.5 257v1M577.5 255v1M580.5 253v1M607.5 243v1M611.5 241v1M623.5 236v1M627.5 234v1M631.5 232v1M635.5 230v1M642.5 226v1M645.5 224v1M650.5 221v1M663.5 216v1M667.5 214v1M674.5 210v1M679.5 207v1M683.5 205v1M703.5 198v1M707.5 196v1M711.5 194v1M715.5 192v1M722.5 188v1M735.5 182v1M739.5 180v1M754.5 173v1M757.5 171v1M758.5 170v1M761.5 168v1M764.5 166v1M765.5 165v1M766.5 164v1M769.5 162v1M772.5 160v1M773.5 159v1M778.5 156v1M781.5 154v1M786.5 151v1M789.5 149v1M794.5 146v1M797.5 144v1M798.5 143v1M801.5 141v1M804.5 139v1M805.5 138v1M810.5 135v1M813.5 133v1M818.5 130v1M821.5 128v1M826.5 125v1M831.5 122v1M835.5 120v1M946.5 117v1M949.5 119v2M950.5 121v2M951.5 123v2M952.5 125v3M953.5 128v2M954.5 130v3M955.5 133v2M956.5 135v2M957.5 137v3M958.5 140v2M959.5 142v3M960.5 145v2M961.5 147v3M962.5 150v2M963.5 152v3M964.5 155v2M965.5 157v2M966.5 159v2M967.5 161v2M968.5 163v2M969.5 165v2M970.5 167v2M971.5 169v2M972.5 171v2M973.5 173v1M974.5 174v2M975.5 176v2M976.5 178v2M977.5 180v1M978.5 181v2M979.5 183v2M980.5 185v2M981.5 187v1M982.5 188v2M983.5 190v2M984.5 192v2M985.5 194v2M986.5 196v2M987.5 198v2M988.5 200v2M989.5 202v1M990.5 203v2M991.5 205v1M992.5 206v1M993.5 207v2M994.5 209v1M995.5 210v1M996.5 211v2M997.5 213v1M998.5 214v2M999.5 216v1M1000.5 217v2M1001.5 219v1M1002.5 220v2M1003.5 222v1M1004.5 223v2M1005.5 225v1M1006.5 226v2M1007.5 228v1M1008.5 229v1M1009.5 230v2M1010.5 232v1M1011.5 233v1M1012.5 234v2M1013.5 236v1M1014.5 237v2M1015.5 239v1M1016.5 240v1M1017.5 241v2M1018.5 243v1M1019.5 244v1M1020.5 245v2M1021.5 247v1M1022.5 248v1M1023.5 249v2M1024.5 251v1M1025.5 252v1M1026.5 253v1M1027.5 254v2M1028.5 256v1M1029.5 257v1M1030.5 258v1M1031.5 259v2M1032.5 261v1M1033.5 262v1M1034.5 263v1M1035.5 264v2M1036.5 266v1M1037.5 267v1M1038.5 268v1M1039.5 269v1M1040.5 270v1M1041.5 271v2M1042.5 273v1M1043.5 274v1M1044.5 275v1M1045.5 276v1M1046.5 277v1M1047.5 278v1M1048.5 279v1M1049.5 280v2M1050.5 282v1M1051.5 283v1M1052.5 284v1M1053.5 285v1M1054.5 286v1M1055.5 287v2M1056.5 289v1M1057.5 290v1M1058.5 291v1M1059.5 292v2M1060.5 294v1M1061.5 295v1M1062.5 296v1M1063.5 297v1M1064.5 298v1M1065.5 299v1M1066.5 300v1M1067.5 301v1M1068.5 302v1M1069.5 303v1M1070.5 304v1M1073.5 306v1M1076.5 308v1M1077.5 309v1M1078.5 310v1M1081.5 312v1M1084.5 314v1M1085.5 315v1M1086.5 316v1M1089.5 318v1M1092.5 320v1M1095.5 322v1M1099.5 324v1M1117.5 325v1M1118.5 324v1M1119.5 321v3M1120.5 320v1M1121.5 317v3M1122.5 316v1M1123.5 313v3M1124.5 312v1M1125.5 309v3M1126.5 308v1M1127.5 305v3M1128.5 304v1M1129.5 301v3M1130.5 300v1M1131.5 297v3M1132.5 296v1M1133.5 294v2M1134.5 292v2M1135.5 291v1M1136.5 289v2M1137.5 288v1M1138.5 286v2M1139.5 285v1M1140.5 283v2M1141.5 282v1M1142.5 281v1M1143.5 280v1M1144.5 279v1M1145.5 277v2M1146.5 276v1M1147.5 275v1M1148.5 274v1M1149.5 273v1M1150.5 272v1M1151.5 271v1M1152.5 270v1M1153.5 268v2M1154.5 267v1M1155.5 266v1M1156.5 265v1M1157.5 264v1M1158.5 263v1M1159.5 262v1M1160.5 261v1M1161.5 259v2M1162.5 258v1M1163.5 257v1M1164.5 256v1M1165.5 255v1M1166.5 253v2M1167.5 252v1M1168.5 250v2M1169.5 249v1M1170.5 247v2M1171.5 246v1M1172.5 244v2M1173.5 243v1M1174.5 242v1M1175.5 240v2M1176.5 239v1M1177.5 238v1M1178.5 237v1M1179.5 235v2M1180.5 234v1M1181.5 233v1M1182.5 232v1M1183.5 231v1M1184.5 230v1M1185.5 228v2M1186.5 227v1M1187.5 226v1M1188.5 225v1M1189.5 224v1M1190.5 223v1M1191.5 222v1M1192.5 221v1M1193.5 220v1M1194.5 219v1M1195.5 218v1M1196.5 217v1M1197.5 216v1M1198.5 215v1M1199.5 214v1M1200.5 213v1M1203.5 211v1M1204.5 210v1M1205.5 209v1M1206.5 208v1M1207.5 207v1M1208.5 206v1M1211.5 204v1M1212.5 203v1M1213.5 202v1M1214.5 201v1M1217.5 199v1M1220.5 197v1M1221.5 196v1M1222.5 195v1M1225.5 193v1M1228.5 191v1M1231.5 189v1M1235.5 187v1M1238.5 185v1M1241.5 183v1M1244.5 181v1M1319.5 170v1M1323.5 168v1M1327.5 166v1M1331.5 164v1" fill="none" stroke="#ffa500" stroke-width="1"/>
<rect x="5" y="92" width="1685" height="2" fill="#ff0000"/>
<rect x="5" y="136" width="1685" height="2" fill="#00fb7c"/>
<rect x="5" y="190" width="1685" height="2" fill="#4169e1"/>
<rect x="5" y="259" width="1685" height="2" fill="#4169e1"/>
<rect x="5" y="351" width="1685" height="2" fill="#4169e1"/>
<rect x="5" y="585" width="1" height="1" fill="#c0c0c0"/>
<rect x="13" y="584" width="1" height="2" fill="#c0c0c0"/>
<rect x="21" y="580" width="1" height="6" fill="#c0c0c0"/>
<rect x="29" y="576" width="1" height="10" fill="#c0c0c0"/>
<rect x="37" y="574" width="1" height="12" fill="#c0c0c0"/>
<rect x="45" y="570" width="1" height="16" fill="#c0c0c0"/>
<rect x="53" y="568" width="1" height="18" fill="#c0c0c0"/>
<rect x="61" y="567" width="1" height="19" fill="#c0c0c0"/>
<rect x="69" y="567" width="1" height="19" fill="#c0c0c0"/>
<rect x="77" y="567" width="1" height="19" fill="#c0c0c0"/>
<rect x="85" y="567" width="1" height="19" fill="#c0c0c0"/>
<rect x="93" y="566" width="1" height="20" fill="#c0c0c0"/>
<rect x="101" y="567" width="1" height="19" fill="#c0c0c0"/>
<rect x="109" y="572" width="1" height="14" fill="#c0c0c0"/>
<rect x="117" y="576" width="1" height="10" fill="#c0c0c0"/>
<rect x="125" y="580" width="1" height="6" fill="#c0c0c0"/>
<rect x="133" y="583" width="1" height="3" fill="#c0c0c0"/>
<rect x="141" y="585" width="1" height="1" fill="#c0c0c0"/>
<rect x="149" y="585" width="1" height="1" fill="#c0c0c0"/>
<rect x="157" y="586" width="1" height="1" fill="#c0c0c0"/>
<rect x="165" y="586" width="1" height="3" fill="#c0c0c0"/>
<rect x="173" y="586" width="1" height="3" fill="#c0c0c0"/>
<rect x="181" y="586" width="1" height="5" fill="#c0c0c0"/>
<rect x="189" y="586" width="1" height="4" fill="#c0c0c0"/>
<rect x="197" y="586" width="1" height="3" fill="#c0c0c0"/>
<rect x="213" y="585" width="1" height="1" fill="#c0c0c0"/>
<rect x="229" y="585" width="1" height="1" fill="#c0c0c0"/>
<rect x="237" y="586" width="1" height="2" fill="#c0c0c0"/>
<rect x="245" y="586" width="1" height="3" fill="#c0c0c0"/>
<rect x="253" y="586" width="1" height="6" fill="#c0c0c0"/>
<rect x="261" y="586" width="1" height="8" fill="#c0c0c0"/>
<rect x="269" y="586" width="1" height="9" fill="#c0c0c0"/>
<rect x="277" y="586" width="1" height="9" fill="#c0c0c0"/>
<rect x="285" y="586" width="1" height="9" fill="#c0c0c0"/>
<rect x="293" y="586" width="1" height="9" fill="#c0c0c0"/>
<rect x="301" y="586" width="1" height="8" fill="#c0c0c0"/>
<rect x="309" y="586" width="1" height="8" fill="#c0c0c0"/>
<rect x="317" y="586" width="1" height="9" fill="#c0c0c0"/>
<rect x="325" y="586" width="1" height="9" fill="#c0c0c0"/>
<rect x="333" y="586" width="1" height="9" fill="#c0c0c0"/>
<rect x="341" y="586" width="1" height="10" fill="#c0c0c0"/>
<rect x="349" y="586" width="1" height="11" fill="#c0c0c0"/>
<rect x="357" y="586" width="1" height="11" fill="#c0c0c0"/>
<rect x="365" y="586" width="1" height="11" fill="#c0c0c0"/>
<rect x="373" y="586" width="1" height="10" fill="#c0c0c0"/>
<rect x="381" y="586" width="1" height="10" fill="#c0c0c0"/>
<rect x="389" y="586" width="1" height="9" fill="#c0c0c0"/>
<rect x="397" y="586" width="1" height="8" fill="#c0c0c0"/>
<rect x="405" y="586" width="1" height="6" fill="#c0c0c0"/>
<rect x="413" y="586" width="1" height="4" fill="#c0c0c0"/>
<rect x="421" y="586" width="1" height="1" fill="#c0c0c0"/>
<rect x="437" y="585" width="1" height="1" fill="#c0c0c0"/>
<rect x="445" y="584" width="1" height="2" fill="#c0c0c0"/>
<rect x="453" y="583" width="1" height="3" fill="#c0c0c0"/>
<rect x="461" y="582" width="1" height="4" fill="#c0c0c0"/>
<rect x="469" y="581" width="1" height="5" fill="#c0c0c0"/>
<rect x="477" y="581" width="1" height="5" fill="#c0c0c0"/>
<rect x="485" y="581" width="1" height="5" fill="#c0c0c0"/>
<rect x="493" y="578" width="1" height="8" fill="#c0c0c0"/>
<rect x="501" y="575" width="1" height="11" fill="#c0c0c0"/>
<rect x="509" y="572" width="1" height="14" fill="#c0c0c0"/>
<rect x="517" y="570" width="1" height="16" fill="#c0c0c0"/>
<rect x="525" y="565" width="1" height="21" fill="#c0c0c0"/>
<rect x="533" y="562" width="1" height="24" fill="#c0c0c0"/>
<rect x="541" y="559" width="1" height="27" fill="#c0c0c0"/>
<rect x="549" y="557" width="1" height="29" fill="#c0c0c0"/>
<rect x="557" y="557" width="1" height="29" fill="#c0c0c0"/>
<rect x="565" y="556" width="1" height="30" fill="#c0c0c0"/>
<rect x="573" y="556" width="1" height="30" fill="#c0c0c0"/>
<rect x="581" y="557" width="1" height="29" fill="#c0c0c0"/>
<rect x="589" y="559" width="1" height="27" fill="#c0c0c0"/>
<rect x="597" y="562" width="1" height="24" fill="#c0c0c0"/>
<rect x="605" y="565" width="1" height="21" fill="#c0c0c0"/>
<rect x="613" y="567" width="1" height="19" fill="#c0c0c0"/>
<rect x="621" y="569" width="1" height="17" fill="#c0c0c0"/>
<rect x="629" y="570" width="1" height="16" fill="#c0c0c0"/>
<rect x="637" y="570" width="1" height="16" fill="#c0c0c0"/>
<rect x="645" y="570" width="1" height="16" fill="#c0c0c0"/>
<rect x="653" y="568" width="1" height="18" fill="#c0c0c0"/>
<rect x="661" y="569" width="1" height="17" fill="#c0c0c0"/>
<rect x="669" y="566" width="1" height="20" fill="#c0c0c0"/>
<rect x="677" y="565" width="1" height="21" fill="#c0c0c0"/>
<rect x="685" y="564" width="1" height="22" fill="#c0c0c0"/>
<rect x="693" y="562" width="1" height="24" fill="#c0c0c0"/>
<rect x="701" y="558" width="1" height="28" fill="#c0c0c0"/>
<rect x="709" y="556" width="1" height="30" fill="#c0c0c0"/>
<rect x="717" y="555" width="1" height="31" fill="#c0c0c0"/>
<rect x="725" y="554" width="1" height="32" fill="#c0c0c0"/>
<rect x="733" y="553" width="1" height="33" fill="#c0c0c0"/>
<rect x="741" y="554" width="1" height="32" fill="#c0c0c0"/>
<rect x="749" y="554" width="1" height="32" fill="#c0c0c0"/>
<rect x="757" y="555" width="1" height="31" fill="#c0c0c0"/>
<rect x="765" y="556" width="1" height="30" fill="#c0c0c0"/>
<rect x="773" y="559" width="1" height="27" fill="#c0c0c0"/>
<rect x="781" y="560" width="1" height="26" fill="#c0c0c0"/>
<rect x="789" y="560" width="1" height="26" fill="#c0c0c0"/>
<rect x="797" y="561" width="1" height="25" fill="#c0c0c0"/>
<rect x="805" y="562" width="1" height="24" fill="#c0c0c0"/>
<rect x="813" y="562" width="1" height="24" fill="#c0c0c0"/>
<rect x="821" y="560" width="1" height="26" fill="#c0c0c0"/>
<rect x="829" y="559" width="1" height="27" fill="#c0c0c0"/>
<rect x="837" y="560" width="1" height="26" fill="#c0c0c0"/>
<rect x="845" y="562" width="1" height="24" fill="#c0c0c0"/>
<rect x="853" y="564" width="1" height="22" fill="#c0c0c0"/>
<rect x="861" y="566" width="1" height="20" fill="#c0c0c0"/>
<rect x="869" y="568" width="1" height="18" fill="#c0c0c0"/>
<rect x="877" y="569" width="1" height="17" fill="#c0c0c0"/>
<rect x="885" y="570" width="1" height="16" fill="#c0c0c0"/>
<rect x="893" y="570" width="1" height="16" fill="#c0c0c0"/>
<rect x="901" y="570" width="1" height="16" fill="#c0c0c0"/>
<rect x="909" y="573" width="1" height="13" fill="#c0c0c0"/>
<rect x="917" y="576" width="1" height="10" fill="#c0c0c0"/>
<rect x="925" y="580" width="1" height="6" fill="#c0c0c0"/>
<rect x="933" y="581" width="1" height="5" fill="#c0c0c0"/>
<rect x="941" y="585" width="1" height="1" fill="#c0c0c0"/>
<rect x="949" y="586" width="1" height="7" fill="#c0c0c0"/>
<rect x="957" y="586" width="1" height="33" fill="#c0c0c0"/>
<rect x="965" y="586" width="1" height="54" fill="#c0c0c0"/>
<rect x="973" y="586" width="1" height="62" fill="#c0c0c0"/>
<rect x="981" y="586" width="1" height="66" fill="#c0c0c0"/>
<rect x="989" y="586" width="1" height="66" fill="#c0c0c0"/>
<rect x="997" y="586" width="1" height="66" fill="#c0c0c0"/>
<rect x="1005" y="586" width="1" height="63" fill="#c0c0c0"/>
<rect x="1013" y="586" width="1" height="58" fill="#c0c0c0"/>
<rect x="1021" y="586" width="1" height="54" fill="#c0c0c0"/>
<rect x="1029" y="586" width="1" height="49" fill="#c0c0c0"/>
<rect x="1037" y="586" width="1" height="46" fill="#c0c0c0"/>
<rect x="1045" y="586" width="1" height="41" fill="#c0c0c0"/>
<rect x="1053" y="586" width="1" height="36" fill="#c0c0c0"/>
<rect x="1061" y="586" width="1" height="30" fill="#c0c0c0"/>
<rect x="1069" y="586" width="1" height="25" fill="#c0c0c0"/>
<rect x="1077" y="586" width="1" height="20" fill="#c0c0c0"/>
<rect x="1085" y="586" width="1" height="16" fill="#c0c0c0"/>
<rect x="1093" y="586" width="1" height="13" fill="#c0c0c0"/>
<rect x="1101" y="586" width="1" height="8" fill="#c0c0c0"/>
<rect x="1109" y="586" width="1" height="5" fill="#c0c0c0"/>
<rect x="1125" y="580" width="1" height="6" fill="#c0c0c0"/>
<rect x="1133" y="577" width="1" height="9" fill="#c0c0c0"/>
<rect x="1141" y="574" width="1" height="12" fill="#c0c0c0"/>
<rect x="1149" y="571" width="1" height="15" fill="#c0c0c0"/>
<rect x="1157" y="570" width="1" height="16" fill="#c0c0c0"/>
<rect x="1165" y="567" width="1" height="19" fill="#c0c0c0"/>
<rect x="1173" y="563" width="1" height="23" fill="#c0c0c0"/>
<rect x="1181" y="558" width="1" height="28" fill="#c0c0c0"/>
<rect x="1189" y="554" width="1" height="32" fill="#c0c0c0"/>
<rect x="1197" y="554" width="1" height="32" fill="#c0c0c0"/>
<rect x="1205" y="554" width="1" height="32" fill="#c0c0c0"/>
<rect x="1213" y="558" width="1" height="28" fill="#c0c0c0"/>
<rect x="1221" y="558" width="1" height="28" fill="#c0c0c0"/>
<rect x="1229" y="559" width="1" height="27" fill="#c0c0c0"/>
<rect x="1237" y="562" width="1" height="24" fill="#c0c0c0"/>
<rect x="1245" y="563" width="1" height="23" fill="#c0c0c0"/>
<rect x="1253" y="566" width="1" height="20" fill="#c0c0c0"/>
<rect x="1261" y="576" width="1" height="10" fill="#c0c0c0"/>
<rect x="1269" y="584" width="1" height="2" fill="#c0c0c0"/>
<rect x="1277" y="583" width="1" height="3" fill="#c0c0c0"/>
<rect x="1285" y="583" width="1" height="3" fill="#c0c0c0"/>
<rect x="1293" y="580" width="1" height="6" fill="#c0c0c0"/>
<rect x="1301" y="580" width="1" height="6" fill="#c0c0c0"/>
<rect x="1309" y="579" width="1" height="7" fill="#c0c0c0"/>
<rect x="1317" y="578" width="1" height="8" fill="#c0c0c0"/>
<rect x="1325" y="572" width="1" height="14" fill="#c0c0c0"/>
<rect x="1333" y="568" width="1" height="18" fill="#c0c0c0"/>
<path d="M5 584.5h3M11 582.5h3M17 582.5h3M23 582.5h3M29 581.5h3M35 580.5h3M41 579.5h2M48 577.5h2M53 576.5h3M59 574.5h3M65 573.5h2M72 571.5h2M77 570.5h3M83 569.5h3M89 568.5h2M95 567.5h3M101 567.5h3M107 567.5h3M114 568.5h2M119 568.5h3M125 569.5h3M131 570.5h3M137 571.5h2M143 573.5h2M149 575.5h3M155 577.5h3M161 578.5h2M167 580.5h2M173 582.5h3M179 584.5h3M185 585.5h2M192 587.5h2M197 588.5h3M203 588.5h3M210 589.5h2M215 589.5h3M221 588.5h3M227 588.5h3M234 587.5h2M239 587.5h3M245 588.5h3M251 588.5h3M258 589.5h2M263 589.5h3M269 589.5h3M275 590.5h3M282 591.5h2M287 591.5h3M293 592.5h3M299 592.5h3M305 593.5h2M311 594.5h3M317 594.5h3M323 594.5h3M329 594.5h3M335 594.5h3M341 594.5h3M347 595.5h3M353 595.5h3M359 595.5h3M365 595.5h3M371 595.5h3M378 596.5h2M383 596.5h3M389 596.5h3M395 596.5h3M401 596.5h3M407 596.5h3M413 595.5h3M419 594.5h3M425 593.5h2M431 592.5h3M437 591.5h3M443 589.5h3M449 588.5h2M455 587.5h3M461 586.5h3M467 585.5h3M473 584.5h2M479 583.5h3M485 582.5h3M491 581.5h3M498 580.5h2M503 580.5h3M509 579.5h3M515 577.5h3M521 576.5h2M528 574.5h2M533 573.5h2M540 570.5h2M545 569.5h2M551 567.5h2M557 565.5h3M563 563.5h3M569 561.5h3M575 560.5h3M581 559.5h3M587 558.5h3M594 557.5h2M599 557.5h3M605 557.5h3M611 558.5h3M618 559.5h2M623 559.5h3M629 560.5h3M635 561.5h3M641 562.5h2M648 564.5h2M653 565.5h3M659 566.5h3M666 567.5h2M671 567.5h3M677 567.5h3M683 566.5h3M689 566.5h3M696 565.5h2M701 564.5h3M707 563.5h3M714 562.5h2M720 561.5h2M725 560.5h3M731 558.5h3M738 557.5h2M743 557.5h3M749 556.5h3M755 555.5h3M762 554.5h2M767 554.5h3M773 554.5h3M779 554.5h3M786 555.5h2M791 555.5h3M797 556.5h3M803 557.5h3M810 558.5h2M815 558.5h3M821 558.5h3M827 559.5h3M833 559.5h3M839 559.5h3M845 560.5h3M851 560.5h3M858 561.5h2M863 561.5h3M869 562.5h3M875 563.5h3M881 563.5h3M887 563.5h3M893 564.5h3M899 565.5h3M905 566.5h2M912 568.5h2M917 569.5h3M923 570.5h3M930 571.5h2M936 572.5h2M941 573.5h2M948 576.5h2M1010 636.5h2M1016 640.5h2M1023 644.5h2M1028 646.5h3M1034 645.5h3M1041 643.5h2M1052 638.5h3M1058 636.5h2M1065 633.5h2M1071 630.5h2M1083 622.5h2M1088 619.5h3M1094 616.5h2M1107 608.5h2M1112 605.5h3M1118 602.5h2M1125 598.5h2M1136 592.5h3M1148 586.5h3M1161 580.5h2M1172 575.5h3M1184 569.5h3M1191 566.5h2M1196 564.5h3M1202 562.5h2M1208 561.5h2M1214 560.5h3M1220 559.5h3M1227 557.5h2M1232 557.5h3M1238 557.5h3M1244 557.5h3M1250 558.5h3M1256 558.5h2M1268 563.5h3M1274 565.5h2M1281 568.5h2M1287 570.5h2M1292 572.5h3M1298 573.5h3M1304 574.5h3M1311 576.5h2M1316 578.5h3M1322 578.5h3M1328 577.5h3M43.5 578v1M47.5 578v1M67.5 572v1M71.5 572v1M91.5 567v1M113.5 567v1M139.5 572v1M145.5 574v1M163.5 579v1M169.5 581v1M187.5 586v1M191.5 586v1M209.5 588v1M233.5 588v1M257.5 588v1M281.5 590v1M307.5 594v1M377.5 595v1M427.5 592v1M451.5 587v1M475.5 583v1M497.5 581v1M523.5 575v1M527.5 575v1M535.5 572v1M539.5 571v1M547.5 568v1M553.5 566v1M593.5 558v1M617.5 558v1M643.5 563v1M647.5 563v1M665.5 566v1M695.5 566v1M713.5 563v1M719.5 562v1M737.5 558v1M761.5 555v1M785.5 554v1M809.5 557v1M857.5 560v1M907.5 567v1M911.5 567v1M929.5 570v1M935.5 571v1M943.5 574v1M947.5 575v1M953.5 578v1M954.5 579v1M955.5 580v1M959.5 583v1M960.5 584v1M961.5 585v1M964.5 589v1M965.5 590v1M966.5 591v1M970.5 595v1M971.5 596v1M972.5 597v1M975.5 601v1M976.5 602v1M977.5 603v1M980.5 607v1M981.5 608v1M982.5 609v1M986.5 613v1M987.5 614v1M988.5 615v1M992.5 619v1M993.5 620v1M994.5 621v1M998.5 625v1M999.5 626v1M1000.5 627v1M1004.5 631v1M1005.5 632v1M1006.5 633v1M1012.5 637v1M1018.5 641v1M1022.5 643v1M1040.5 644v1M1046.5 642v1M1047.5 641v1M1048.5 640v1M1060.5 635v1M1064.5 634v1M1070.5 631v1M1076.5 627v1M1077.5 626v1M1078.5 625v1M1082.5 623v1M1096.5 615v1M1100.5 613v1M1101.5 612v1M1102.5 611v1M1106.5 609v1M1120.5 601v1M1124.5 599v1M1130.5 596v1M1131.5 595v1M1132.5 594v1M1142.5 590v1M1143.5 589v1M1144.5 588v1M1154.5 584v1M1155.5 583v1M1156.5 582v1M1160.5 581v1M1166.5 579v1M1167.5 578v1M1168.5 577v1M1178.5 573v1M1179.5 572v1M1180.5 571v1M1190.5 567v1M1204.5 561v1M1210.5 560v1M1226.5 558v1M1258.5 559v1M1262.5 559v1M1263.5 560v1M1264.5 561v1M1276.5 566v1M1280.5 567v1M1286.5 569v1M1310.5 575v1" fill="none" stroke="#ff0000" stroke-width="1"/>
<line x1="5" y1="694.5" x2="1690" y2="694.5" stroke="#c0c0c0" stroke-width="1" stroke-dasharray="3 3"/>
<line x1="5" y1="738.5" x2="1690" y2="738.5" stroke="#c0c0c0" stroke-width="1" stroke-dasharray="3 3"/>
<path d="M13 704.5h2M15 703.5h2M17 702.5h3M20 701.5h3M23 700.5h2M25 699.5h3M28 698.5h10M39 696.5h2M42 694.5h2M47 694.5h2M50 696.5h2M53 698.5h9M62 699.5h2M64 700.5h2M67 702.5h2M69 703.5h2M71 704.5h2M73 705.5h3M76 706.5h3M80 704.5h3M84 702.5h3M87 701.5h2M89 700.5h3M92 699.5h2M109 719.5h2M112 721.5h3M116 723.5h3M119 724.5h2M121 725.5h3M124 726.5h6M130 725.5h8M138 724.5h16M154 725.5h13M167 724.5h2M169 723.5h3M172 722.5h2M177 726.5h2M189 717.5h3M192 718.5h3M195 719.5h3M199 717.5h2M202 715.5h2M206 712.5h2M208 711.5h2M211 709.5h2M217 712.5h2M221 715.5h2M224 717.5h3M228 719.5h3M232 721.5h3M236 723.5h6M242 724.5h4M249 728.5h2M253 731.5h3M256 732.5h3M259 733.5h3M263 731.5h2M266 729.5h2M269 727.5h2M271 726.5h2M273 725.5h3M276 724.5h12M288 723.5h3M291 722.5h5M296 721.5h3M299 720.5h5M304 721.5h3M307 722.5h7M314 723.5h8M322 724.5h4M333 734.5h9M343 732.5h2M346 730.5h2M349 728.5h5M354 729.5h6M360 728.5h3M363 727.5h4M368 725.5h3M372 723.5h3M375 724.5h2M377 725.5h3M380 726.5h3M383 725.5h2M385 724.5h3M388 723.5h3M392 721.5h3M396 719.5h2M399 717.5h2M402 715.5h2M405 713.5h2M407 712.5h2M409 711.5h3M412 710.5h2M414 709.5h2M416 708.5h2M419 706.5h2M421 705.5h2M424 707.5h3M428 709.5h14M442 710.5h6M448 709.5h3M451 708.5h13M464 707.5h3M467 706.5h7M474 707.5h4M478 708.5h2M480 709.5h2M483 711.5h3M493 696.5h2M496 694.5h3M500 692.5h4M504 693.5h3M507 694.5h4M511 693.5h2M513 692.5h3M516 691.5h2M521 687.5h2M525 684.5h13M538 683.5h4M545 687.5h2M549 690.5h11M560 689.5h3M563 688.5h7M570 687.5h4M582 697.5h2M584 698.5h2M587 700.5h2M597 715.5h2M599 714.5h2M601 713.5h3M604 712.5h4M608 711.5h3M611 710.5h7M618 709.5h13M632 707.5h3M636 705.5h3M640 703.5h3M644 701.5h2M652 694.5h2M661 708.5h2M669 699.5h18M688 697.5h3M692 695.5h2M694 694.5h2M696 693.5h2M699 691.5h2M701 690.5h5M706 691.5h5M711 692.5h2M713 693.5h3M716 694.5h11M727 693.5h2M729 692.5h3M732 691.5h2M741 703.5h2M744 701.5h3M748 699.5h11M760 701.5h3M764 703.5h2M767 705.5h2M770 707.5h2M774 708.5h2M776 707.5h2M779 705.5h2M781 704.5h3M784 703.5h3M787 702.5h5M792 703.5h3M795 704.5h7M802 703.5h5M807 702.5h2M809 701.5h3M812 700.5h3M816 698.5h3M820 696.5h11M831 697.5h2M833 698.5h3M836 699.5h2M845 710.5h5M850 709.5h16M866 708.5h8M874 709.5h8M882 708.5h4M887 706.5h2M890 704.5h2M893 702.5h5M898 701.5h4M909 720.5h2M911 721.5h2M913 722.5h3M916 723.5h4M920 724.5h3M923 725.5h3M929 721.5h2M942 734.5h2M944 735.5h2M947 737.5h2M957 757.5h9M973 739.5h2M976 737.5h3M980 735.5h3M984 733.5h3M988 731.5h6M994 732.5h4M998 731.5h2M1000 730.5h2M1003 728.5h2M1005 727.5h2M1008 725.5h3M1012 723.5h4M1016 724.5h3M1019 725.5h4M1023 724.5h2M1025 723.5h3M1028 722.5h4M1032 723.5h3M1035 724.5h5M1040 723.5h3M1043 722.5h4M1048 720.5h3M1052 718.5h12M1064 717.5h3M1067 716.5h5M1072 715.5h3M1075 714.5h5M1080 715.5h3M1083 716.5h12M1096 714.5h3M1100 712.5h10M1111 710.5h2M1114 708.5h2M1117 706.5h2M1119 705.5h2M1121 704.5h3M1124 703.5h2M1127 705.5h2M1130 707.5h2M1133 709.5h3M1136 708.5h3M1139 707.5h5M1144 706.5h3M1147 705.5h4M1152 707.5h3M1156 709.5h3M1160 707.5h3M1164 705.5h2M1166 704.5h2M1168 703.5h2M1171 701.5h2M1173 700.5h2M1175 699.5h2M1177 698.5h3M1180 697.5h4M1184 698.5h3M1187 699.5h4M1192 701.5h3M1196 703.5h4M1200 704.5h3M1203 705.5h3M1215 712.5h2M1218 710.5h2M1221 708.5h9M1231 710.5h2M1234 712.5h2M1237 714.5h2M1239 713.5h2M1241 712.5h3M1244 711.5h3M1247 712.5h2M1249 713.5h3M1252 714.5h2M1261 730.5h5M1266 729.5h4M1277 714.5h5M1282 715.5h5M1288 713.5h3M1292 711.5h3M1295 712.5h2M1297 713.5h3M1300 714.5h6M1306 713.5h6M1312 712.5h3M1315 711.5h3M1318 710.5h2M1320 709.5h2M1323 707.5h2M1325 706.5h3M1328 705.5h3M1331 704.5h3M5.5 719v1M6.5 717v2M7.5 715v2M8.5 713v2M9.5 711v2M10.5 709v2M11.5 707v2M12.5 705v2M38.5 697v1M41.5 695v1M44.5 693v1M45.5 692v1M46.5 693v1M49.5 695v1M52.5 697v1M66.5 701v1M79.5 705v1M83.5 703v1M94.5 700v2M95.5 702v1M96.5 703v1M97.5 704v2M98.5 706v1M99.5 707v1M100.5 708v2M101.5 710v1M102.5 711v1M103.5 712v1M104.5 713v1M105.5 714v2M106.5 716v1M107.5 717v1M108.5 718v1M111.5 720v1M115.5 722v1M174.5 723v1M175.5 724v1M176.5 725v1M179.5 727v1M180.5 728v1M181.5 729v1M182.5 727v2M183.5 726v1M184.5 724v2M185.5 723v1M186.5 721v2M187.5 720v1M188.5 718v2M198.5 718v1M201.5 716v1M204.5 714v1M205.5 713v1M210.5 710v1M213.5 708v1M214.5 709v1M215.5 710v1M216.5 711v1M219.5 713v1M220.5 714v1M223.5 716v1M227.5 718v1M231.5 720v1M235.5 722v1M246.5 725v1M247.5 726v1M248.5 727v1M251.5 729v1M252.5 730v1M262.5 732v1M265.5 730v1M268.5 728v1M326.5 725v1M327.5 726v2M328.5 728v1M329.5 729v1M330.5 730v1M331.5 731v2M332.5 733v1M342.5 733v1M345.5 731v1M348.5 729v1M367.5 726v1M371.5 724v1M391.5 722v1M395.5 720v1M398.5 718v1M401.5 716v1M404.5 714v1M418.5 707v1M423.5 706v1M427.5 708v1M482.5 710v1M485.5 712v1M486.5 710v1M487.5 707v3M488.5 706v1M489.5 703v3M490.5 702v1M491.5 699v3M492.5 698v1M493.5 697v1M495.5 695v1M499.5 693v1M518.5 690v1M519.5 689v1M520.5 688v1M523.5 686v1M524.5 685v1M542.5 684v1M543.5 685v1M544.5 686v1M547.5 688v1M548.5 689v1M574.5 688v1M575.5 689v1M576.5 690v1M577.5 691v2M578.5 693v1M579.5 694v1M580.5 695v1M581.5 696v1M586.5 699v1M589.5 701v1M590.5 702v2M591.5 704v2M592.5 706v2M593.5 708v1M594.5 709v2M595.5 711v2M596.5 713v2M631.5 708v1M635.5 706v1M639.5 704v1M643.5 702v1M646.5 700v1M647.5 699v1M648.5 698v1M649.5 697v1M650.5 696v1M651.5 695v1M653.5 693v1M654.5 695v1M655.5 696v3M656.5 699v1M657.5 700v3M658.5 703v1M659.5 704v3M660.5 707v1M661.5 709v1M663.5 706v2M664.5 705v1M665.5 704v1M666.5 703v1M667.5 701v2M668.5 700v1M687.5 698v1M691.5 696v1M698.5 692v1M734.5 692v2M735.5 694v1M736.5 695v2M737.5 697v1M738.5 698v2M739.5 700v1M740.5 701v2M743.5 702v1M747.5 700v1M759.5 700v1M763.5 702v1M766.5 704v1M769.5 706v1M772.5 708v1M773.5 709v1M778.5 706v1M815.5 699v1M819.5 697v1M838.5 700v2M839.5 702v1M840.5 703v1M841.5 704v2M842.5 706v1M843.5 707v1M844.5 708v2M886.5 707v1M889.5 705v1M892.5 703v1M901.5 702v1M902.5 703v2M903.5 705v2M904.5 707v3M905.5 710v2M906.5 712v3M907.5 715v2M908.5 717v2M909.5 719v1M926.5 724v1M927.5 723v1M928.5 722v1M931.5 720v1M932.5 719v1M933.5 718v1M934.5 719v2M935.5 721v2M936.5 723v2M937.5 725v2M938.5 727v2M939.5 729v2M940.5 731v2M941.5 733v1M946.5 736v1M949.5 738v2M950.5 740v2M951.5 742v2M952.5 744v3M953.5 747v2M954.5 749v3M955.5 752v2M956.5 754v2M957.5 756v1M965.5 756v1M966.5 754v2M967.5 752v2M968.5 750v2M969.5 747v3M970.5 745v2M971.5 743v2M972.5 741v2M973.5 740v1M975.5 738v1M979.5 736v1M983.5 734v1M987.5 732v1M1002.5 729v1M1007.5 726v1M1011.5 724v1M1047.5 721v1M1051.5 719v1M1095.5 715v1M1099.5 713v1M1110.5 711v1M1113.5 709v1M1116.5 707v1M1126.5 704v1M1129.5 706v1M1132.5 708v1M1151.5 706v1M1155.5 708v1M1159.5 708v1M1163.5 706v1M1170.5 702v1M1191.5 700v1M1195.5 702v1M1206.5 706v1M1207.5 707v1M1208.5 708v1M1209.5 709v2M1210.5 711v1M1211.5 712v1M1212.5 713v1M1213.5 714v1M1214.5 713v1M1217.5 711v1M1220.5 709v1M1230.5 709v1M1233.5 711v1M1236.5 713v1M1253.5 715v1M1254.5 716v1M1255.5 717v3M1256.5 720v1M1257.5 721v3M1258.5 724v1M1259.5 725v3M1260.5 728v1M1261.5 729v1M1270.5 727v2M1271.5 725v2M1272.5 723v2M1273.5 721v2M1274.5 719v2M1275.5 717v2M1276.5 715v2M1287.5 714v1M1291.5 712v1M1322.5 708v1" fill="none" stroke="#1e90ff" stroke-width="1"/>
<rect x="4" y="36" width="1687" height="1" fill="#000"/>
<rect x="4" y="36" width="1" height="737" fill="#000"/>
<rect x="1690" y="36" width="1" height="737" fill="#000"/>
<rect x="4" y="543" width="1687" height="1" fill="#000"/>
<rect x="4" y="545" width="1687" height="1" fill="#000"/>
<rect x="4" y="658" width="1687" height="1" fill="#000"/>
<rect x="4" y="660" width="1687" height="1" fill="#000"/>
<rect x="4" y="772" width="1687" height="1" fill="#000"/>
<rect x="4" y="544" width="1688" height="1" fill="#fff"/>
<rect x="4" y="659" width="1688" height="1" fill="#fff"/>
<rect x="1691" y="45" width="2" height="1" fill="#000"/>
<rect x="1691" y="78" width="2" height="1" fill="#000"/>
<rect x="1691" y="111" width="2" height="1" fill="#000"/>
<rect x="1691" y="144" width="2" height="1" fill="#000"/>
<rect x="1691" y="177" width="2" height="1" fill="#000"/>
<rect x="1691" y="210" width="2" height="1" fill="#000"/>
<rect x="1691" y="243" width="2" height="1" fill="#000"/>
<rect x="1691" y="276" width="2" height="1" fill="#000"/>
<rect x="1691" y="309" width="2" height="1" fill="#000"/>
<rect x="1691" y="342" width="2" height="1" fill="#000"/>
<rect x="1691" y="375" width="2" height="1" fill="#000"/>
<rect x="1691" y="408" width="2" height="1" fill="#000"/>
<rect x="1691" y="441" width="2" height="1" fill="#000"/>
<rect x="1691" y="474" width="2" height="1" fill="#000"/>
<rect x="1691" y="507" width="2" height="1" fill="#000"/>
<rect x="1691" y="540" width="2" height="1" fill="#000"/>
<rect x="1691" y="546" width="2" height="1" fill="#000"/>
<rect x="1691" y="585" width="2" height="1" fill="#000"/>
<rect x="1691" y="694" width="2" height="1" fill="#000"/>
<rect x="1691" y="738" width="2" height="1" fill="#000"/>
<rect x="5" y="773" width="1" height="3" fill="#000"/>
<rect x="69" y="773" width="1" height="3" fill="#000"/>
<rect x="133" y="773" width="1" height="3" fill="#000"/>
<rect x="197" y="773" width="1" height="3" fill="#000"/>
<rect x="261" y="773" width="1" height="3" fill="#000"/>
<rect x="325" y="773" width="1" height="3" fill="#000"/>
<rect x="389" y="773" width="1" height="3" fill="#000"/>
<rect x="453" y="773" width="1" height="3" fill="#000"/>
<rect x="517" y="773" width="1" height="3" fill="#000"/>
<rect x="581" y="773" width="1" height="3" fill="#000"/>
<rect x="645" y="773" width="1" height="3" fill="#000"/>
<rect x="709" y="773" width="1" height="3" fill="#000"/>
<rect x="773" y="773" width="1" height="3" fill="#000"/>
<rect x="837" y="773" width="1" height="3" fill="#000"/>
<rect x="901" y="773" width="1" height="3" fill="#000"/>
<rect x="965" y="773" width="1" height="3" fill="#000"/>
<rect x="1029" y="773" width="1" height="3" fill="#000"/>
<rect x="1093" y="773" width="1" height="3" fill="#000"/>
<rect x="1157" y="773" width="1" height="3" fill="#000"/>
<rect x="1221" y="773" width="1" height="3" fill="#000"/>
<rect x="1285" y="773" width="1" height="3" fill="#000"/>
<path d="M1347 37h10l-5 5z" fill="#708090"/>
<path d="M8 43h7l-3.5 4z" fill="#000" shape-rendering="auto"/>
<rect x="4" y="90" width="6" height="6" fill="#ff0000"/>
<rect x="6" y="92" width="2" height="2" fill="#fff"/>
<rect x="1684" y="90" width="6" height="6" fill="#ff0000"/>
<rect x="1686" y="92" width="2" height="2" fill="#fff"/>
<rect x="4" y="134" width="6" height="6" fill="#00fb7c"/>
<rect x="6" y="136" width="2" height="2" fill="#fff"/>
<rect x="1684" y="134" width="6" height="6" fill="#00fb7c"/>
<rect x="1686" y="136" width="2" height="2" fill="#fff"/>
<rect x="4" y="188" width="6" height="6" fill="#4169e1"/>
<rect x="6" y="190" width="2" height="2" fill="#fff"/>
<rect x="1684" y="188" width="6" height="6" fill="#4169e1"/>
<rect x="1686" y="190" width="2" height="2" fill="#fff"/>
<rect x="1" y="13" width="1" height="1" fill="#606060"/>
<rect x="3" y="13" width="1" height="1" fill="#606060"/>
<rect x="5" y="13" width="1" height="1" fill="#606060"/>
<rect x="7" y="13" width="1" height="1" fill="#606060"/>
<rect x="9" y="13" width="1" height="1" fill="#606060"/>
<rect x="11" y="13" width="1" height="1" fill="#606060"/>
<rect x="13" y="13" width="1" height="1" fill="#606060"/>
<rect x="1" y="16" width="1" height="1" fill="#606060"/>
<rect x="3" y="16" width="1" height="1" fill="#606060"/>
<rect x="5" y="16" width="1" height="1" fill="#606060"/>
<rect x="7" y="16" width="1" height="1" fill="#606060"/>
<rect x="9" y="16" width="1" height="1" fill="#606060"/>
<rect x="11" y="16" width="1" height="1" fill="#606060"/>
<rect x="13" y="16" width="1" height="1" fill="#606060"/>
<rect x="1" y="20" width="1" height="1" fill="#606060"/>
<rect x="3" y="20" width="1" height="1" fill="#606060"/>
<rect x="5" y="20" width="1" height="1" fill="#606060"/>
<rect x="7" y="20" width="1" height="1" fill="#606060"/>
<rect x="9" y="20" width="1" height="1" fill="#606060"/>
<rect x="11" y="20" width="1" height="1" fill="#606060"/>
<rect x="13" y="20" width="1" height="1" fill="#606060"/>
<rect x="1" y="24" width="1" height="1" fill="#606060"/>
<rect x="3" y="24" width="1" height="1" fill="#606060"/>
<rect x="5" y="24" width="1" height="1" fill="#606060"/>
<rect x="7" y="24" width="1" height="1" fill="#606060"/>
<rect x="9" y="24" width="1" height="1" fill="#606060"/>
<rect x="11" y="24" width="1" height="5" fill="#333"/>
<rect x="11" y="24" width="4" height="1" fill="#333"/>
<rect x="11" y="26" width="3" height="1" fill="#333"/>
<rect x="58" y="14" width="1" height="1" fill="#606060"/>
<rect x="58" y="26" width="1" height="1" fill="#606060"/>
<rect x="60" y="14" width="1" height="1" fill="#606060"/>
<rect x="60" y="26" width="1" height="1" fill="#606060"/>
<rect x="62" y="14" width="1" height="1" fill="#606060"/>
<rect x="62" y="26" width="1" height="1" fill="#606060"/>
<rect x="64" y="14" width="1" height="1" fill="#606060"/>
<rect x="64" y="26" width="1" height="1" fill="#606060"/>
<rect x="66" y="14" width="1" height="1" fill="#606060"/>
<rect x="66" y="26" width="1" height="1" fill="#606060"/>
<rect x="68" y="14" width="1" height="1" fill="#606060"/>
<rect x="68" y="26" width="1" height="1" fill="#606060"/>
<rect x="70" y="14" width="1" height="1" fill="#606060"/>
<rect x="70" y="26" width="1" height="1" fill="#606060"/>
<rect x="58" y="14" width="1" height="1" fill="#606060"/>
<rect x="70" y="14" width="1" height="1" fill="#606060"/>
<rect x="58" y="16" width="1" height="1" fill="#606060"/>
<rect x="70" y="16" width="1" height="1" fill="#606060"/>
<rect x="58" y="18" width="1" height="1" fill="#606060"/>
<rect x="70" y="18" width="1" height="1" fill="#606060"/>
<rect x="58" y="20" width="1" height="1" fill="#606060"/>
<rect x="70" y="20" width="1" height="1" fill="#606060"/>
<rect x="58" y="22" width="1" height="1" fill="#606060"/>
<rect x="70" y="22" width="1" height="1" fill="#606060"/>
<rect x="58" y="24" width="1" height="1" fill="#606060"/>
<rect x="70" y="24" width="1" height="1" fill="#606060"/>
<rect x="58" y="26" width="1" height="1" fill="#606060"/>
<rect x="70" y="26" width="1" height="1" fill="#606060"/>
<rect x="57" y="13" width="2" height="1" fill="#606060"/>
<rect x="60" y="17" width="9" height="2" fill="#686868"/>
<rect x="63" y="17" width="2" height="9" fill="#686868"/>
<path d="M88.5 14l4 3.5l-4 1.5l-4-1.5z" fill="#555" shape-rendering="auto"/>
<path d="M95.5 27l4-3.5l-4-1.5l-4 1.5z" fill="#555" shape-rendering="auto"/>
<path d="M87.5 21l2 2l4.5-5" fill="none" stroke="#555" stroke-width="1.4" shape-rendering="auto"/>
<path d="M105 19h7l-3.5 4z" fill="#000" shape-rendering="auto"/>
<rect x="121" y="10" width="3" height="1" fill="#a8a8a8"/>
<rect x="121" y="12" width="3" height="1" fill="#a8a8a8"/>
<rect x="121" y="14" width="3" height="1" fill="#a8a8a8"/>
<rect x="121" y="16" width="3" height="1" fill="#a8a8a8"/>
<rect x="121" y="18" width="3" height="1" fill="#a8a8a8"/>
<rect x="121" y="20" width="3" height="1" fill="#a8a8a8"/>
<rect x="121" y="22" width="3" height="1" fill="#a8a8a8"/>
<rect x="121" y="24" width="3" height="1" fill="#a8a8a8"/>
<rect x="121" y="26" width="3" height="1" fill="#a8a8a8"/>
<rect x="121" y="28" width="3" height="1" fill="#a8a8a8"/>
<rect x="0" y="0" width="15" height="3" fill="#f8f8f8"/>
<path d="M36 0h4l-1 3z" fill="#e0a020" shape-rendering="auto"/>
<rect x="49" y="0" width="1" height="3" fill="#808080"/>
<rect x="68" y="0" width="4" height="3" fill="#00b400"/>
<rect x="134" y="0" width="2" height="1" fill="#905020"/>
<rect x="156" y="0" width="12" height="1" fill="#3a5aa8"/>
<rect x="191" y="0" width="3" height="1" fill="#20b020"/>
<rect x="217" y="0" width="7" height="1" fill="#e06010"/>
<rect x="286" y="0" width="1" height="5" fill="#707070"/>
<rect x="290" y="1" width="3" height="1" fill="#909090"/>
<rect x="324" y="0" width="1" height="3" fill="#808080"/>
<rect x="325" y="0" width="24" height="3" fill="#f8f8f8"/>
<rect x="381" y="0" width="1" height="3" fill="#808080"/>
<rect x="403" y="0" width="2" height="1" fill="#e09010"/>
<rect x="431" y="0" width="2" height="1" fill="#e09010"/>
<rect x="446" y="0" width="8" height="1" fill="#2060d0"/>
<rect x="454" y="0" width="8" height="1" fill="#20a020"/>
<rect x="471" y="0" width="1" height="3" fill="#808080"/>
<rect x="476" y="0" width="1" height="3" fill="#808080"/>
<rect x="477" y="0" width="24" height="3" fill="#f8f8f8"/>
<rect x="484" y="0" width="1" height="1" fill="#404040"/>
<rect x="504" y="0" width="1" height="3" fill="#808080"/>
<rect x="505" y="0" width="24" height="3" fill="#f8f8f8"/>
<rect x="512" y="0" width="1" height="1" fill="#404040"/>
<rect x="533" y="0" width="1" height="3" fill="#808080"/>
<rect x="551" y="0" width="4" height="3" fill="#00b400"/>
<rect x="585" y="0" width="8" height="1" fill="#1c4a90"/>
<rect x="622" y="0" width="15" height="1" fill="#c4c4c4"/></svg>
<div class="t" style="left:1696px;top:41px;">4256.0</div>
<div class="t" style="left:1696px;top:74px;">4210.0</div>
<div class="t" style="left:1696px;top:107px;">4165.0</div>
<div class="t" style="left:1696px;top:140px;">4120.0</div>
<div class="t" style="left:1696px;top:173px;">4074.0</div>
<div class="t" style="left:1696px;top:206px;">4029.0</div>
<div class="t" style="left:1696px;top:239px;">3984.0</div>
<div class="t" style="left:1696px;top:272px;">3939.0</div>
<div class="t" style="left:1696px;top:305px;">3893.0</div>
<div class="t" style="left:1696px;top:338px;">3848.0</div>
<div class="t" style="left:1696px;top:371px;">3803.0</div>
<div class="t" style="left:1696px;top:404px;">3757.0</div>
<div class="t" style="left:1696px;top:437px;">3712.0</div>
<div class="t" style="left:1696px;top:470px;">3667.0</div>
<div class="t" style="left:1696px;top:503px;">3622.0</div>
<div class="t" style="left:1696px;top:536px;">3576.0</div>
<div class="t" style="left:1694px;top:548px;">57.1</div>
<div class="t" style="left:1694px;top:581px;">0.00</div>
<div class="t" style="left:1694px;top:647px;">-109.43</div>
<div class="t" style="left:1694px;top:663px;">100</div>
<div class="t" style="left:1694px;top:690px;">70</div>
<div class="t" style="left:1694px;top:734px;">30</div>
<div class="t" style="left:1694px;top:761px;">0</div>
<div class="pl" style="top:87px;background:#ff0000"><span>4190.0</span></div>
<div class="pl" style="top:131px;background:#00fb7c"><span>4130.0</span></div>
<div class="pl" style="top:185px;background:#4169e1"><span>4055.0</span></div>
<div class="pl" style="top:254px;background:#4169e1"><span>3960.0</span></div>
<div class="pl" style="top:346px;background:#4169e1"><span>3835.0</span></div>
<div class="t" style="left:20px;top:40px;">CHINA300-,H4&nbsp; 4168.1 4210.2 4166.2 4191.8</div>
<div class="t" style="left:9px;top:550px;">MACD(12,26,9) 27.10 10.67</div>
<div class="t" style="left:9px;top:665px;">RSI(14) 61.6236</div>
<div class="t" style="left:4px;top:777px;">31 Oct 2019</div>
<div class="t" style="left:68px;top:777px;">6 Nov 05:00</div>
<div class="t" style="left:132px;top:777px;">12 Nov 05:00</div>
<div class="t" style="left:196px;top:777px;">18 Nov 05:00</div>
<div class="t" style="left:260px;top:777px;">22 Nov 05:00</div>
<div class="t" style="left:324px;top:777px;">28 Nov 05:00</div>
<div class="t" style="left:388px;top:777px;">4 Dec 05:00</div>
<div class="t" style="left:452px;top:777px;">10 Dec 05:00</div>
<div class="t" style="left:516px;top:777px;">16 Dec 05:00</div>
<div class="t" style="left:580px;top:777px;">20 Dec 05:00</div>
<div class="t" style="left:644px;top:777px;">26 Dec 05:00</div>
<div class="t" style="left:708px;top:777px;">2 Jan 05:00</div>
<div class="t" style="left:772px;top:777px;">8 Jan 05:00</div>
<div class="t" style="left:836px;top:777px;">14 Jan 05:00</div>
<div class="t" style="left:900px;top:777px;">20 Jan 05:00</div>
<div class="t" style="left:964px;top:777px;">3 Feb 05:00</div>
<div class="t" style="left:1028px;top:777px;">7 Feb 05:00</div>
<div class="t" style="left:1092px;top:777px;">13 Feb 05:00</div>
<div class="t" style="left:1156px;top:777px;">19 Feb 05:00</div>
<div class="t" style="left:1220px;top:777px;">25 Feb 05:00</div>
<div class="t" style="left:1284px;top:777px;">2 Mar 05:00</div>
<div class="cn" style="left:1311.5px;top:414.5px">多空转折点<span class="cd">4130</span></div>
<div class="abs" style="left:31.5px;top:13px;font-size:12.5px;line-height:16px;color:#585858;-webkit-text-stroke:0.3px #585858">A</div>
<div class="tb" style="left:139.0px;top:16px;">M1</div>
<div class="tb" style="left:167.0px;top:16px;">M5</div>
<div class="tb" style="left:195.4px;top:16px;">M15</div>
<div class="tb" style="left:223.3px;top:16px;">M30</div>
<div class="tb" style="left:251.0px;top:16px;">H1</div>
<div class="tb" style="left:278.8px;top:16px;">H4</div>
<div class="tb" style="left:307.5px;top:16px;">D1</div>
<div class="tb" style="left:336.1px;top:16px;">W1</div>
<div class="tb" style="left:362.9px;top:16px;">MN</div>
</body></html>
